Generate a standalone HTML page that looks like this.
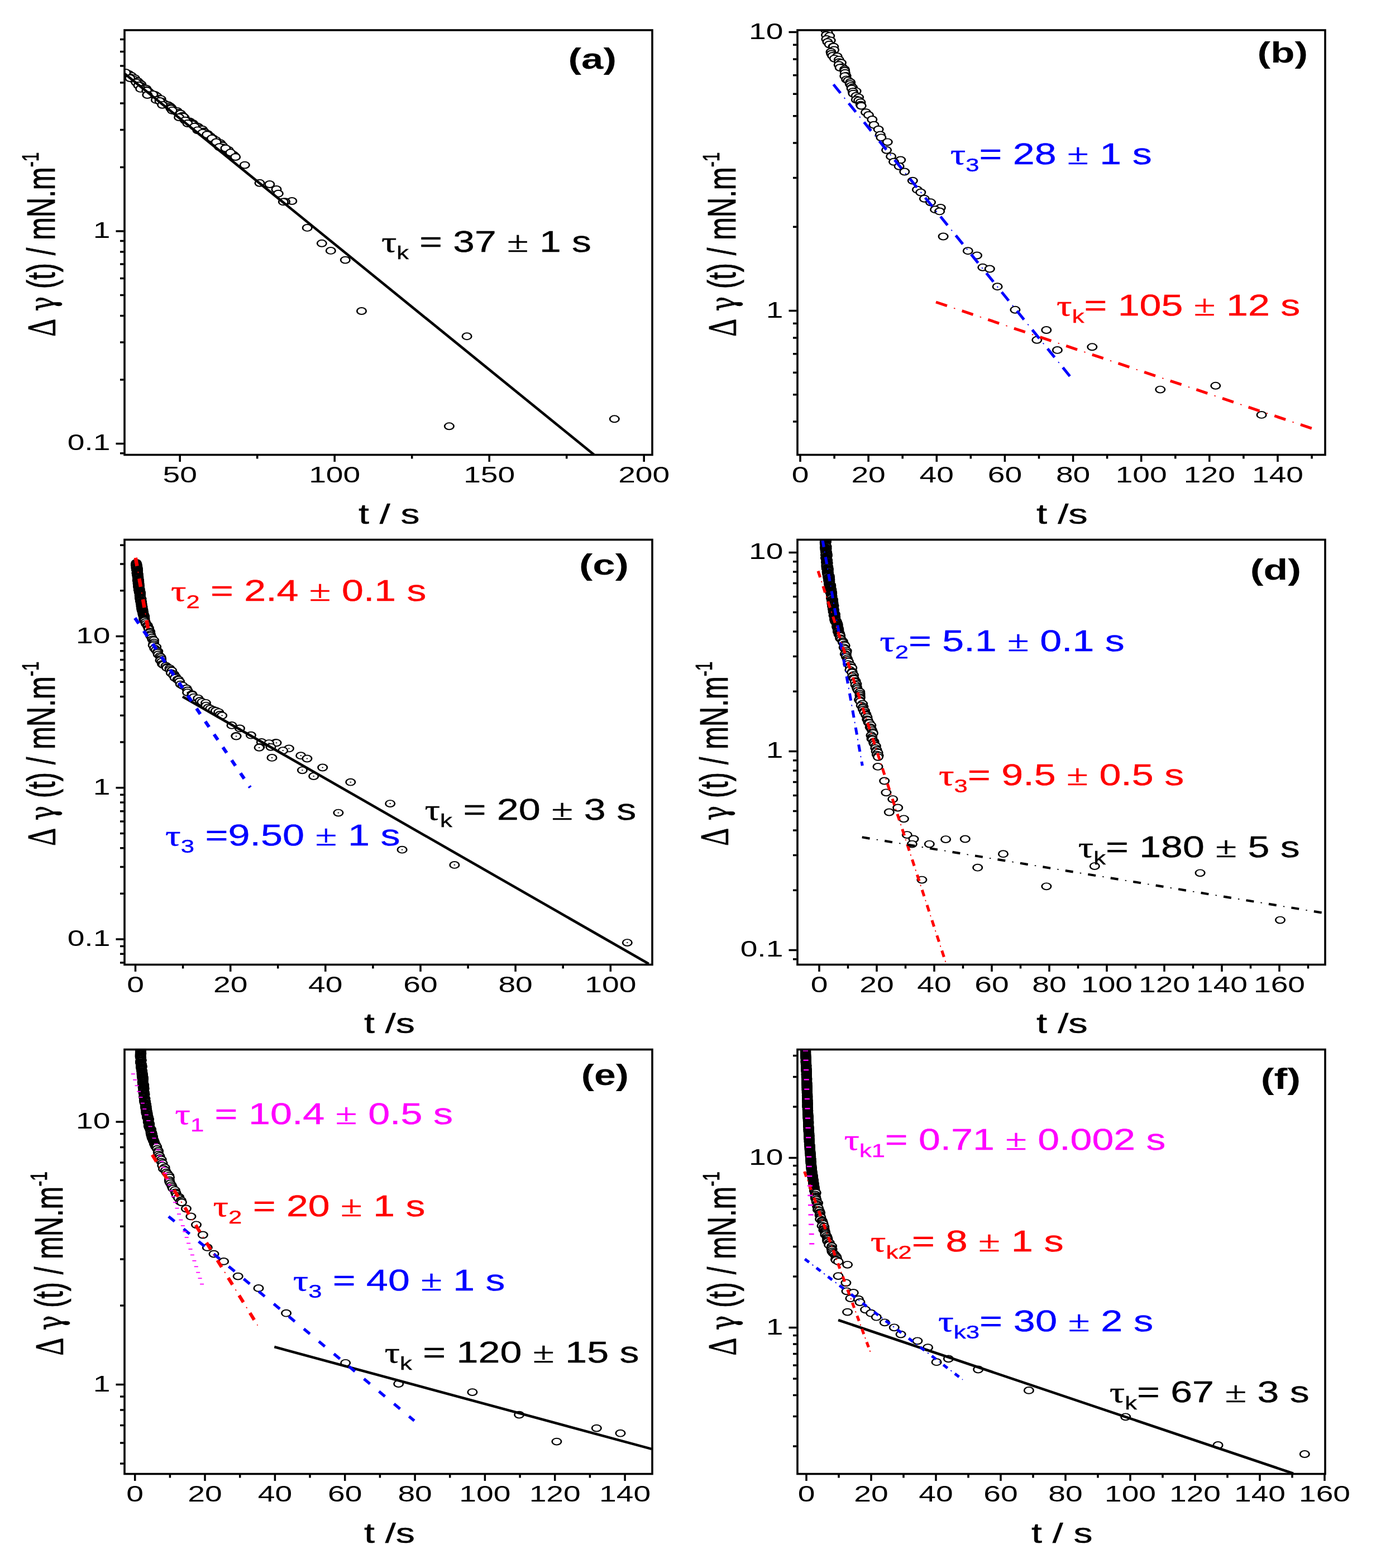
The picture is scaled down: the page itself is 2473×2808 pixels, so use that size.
<!DOCTYPE html><html><head><meta charset="utf-8"><title>Figure</title><style>html,body{margin:0;padding:0;background:#fff}svg{display:block}</style></head><body><svg xmlns="http://www.w3.org/2000/svg" width="2473" height="2808" viewBox="0 0 2473 2808">
<rect width="2473" height="2808" fill="#fff"/>
<defs><g id="m" transform="scale(1.38,1)"><circle r="5.95" fill="#fff" stroke="#000" stroke-width="1.95"/></g><g id="md" transform="scale(1.38,1)"><circle r="5.95" fill="#fff" stroke="#000" stroke-width="1.95"/><rect x="-0.9" y="-0.8" width="1.8" height="1.6" fill="#000"/></g>
<clipPath id="clipa"><rect x="223" y="54" width="945" height="760.5"/></clipPath>
<clipPath id="clipb"><rect x="1428" y="54" width="945" height="760.5"/></clipPath>
<clipPath id="clipc"><rect x="223" y="966.5" width="945" height="761.0"/></clipPath>
<clipPath id="clipd"><rect x="1428" y="966.5" width="945" height="761.0"/></clipPath>
<clipPath id="clipe"><rect x="223" y="1879.5" width="945" height="760.0"/></clipPath>
<clipPath id="clipf"><rect x="1428" y="1879.5" width="945" height="760.0"/></clipPath>
</defs>
<g clip-path="url(#clipa)"><use href="#m" x="223.7" y="131.1"/><use href="#m" x="230.5" y="132.6"/><use href="#m" x="235.2" y="135.7"/><use href="#m" x="232.5" y="138.3"/><use href="#m" x="241.4" y="140.1"/><use href="#m" x="240.3" y="142.8"/><use href="#m" x="246.8" y="145.7"/><use href="#m" x="249.9" y="148.8"/><use href="#m" x="252.9" y="151.1"/><use href="#m" x="251.7" y="153.7"/><use href="#m" x="255.7" y="156.7"/><use href="#m" x="261.7" y="158.6"/><use href="#m" x="263.2" y="161.3"/><use href="#m" x="266.2" y="164.2"/><use href="#m" x="267.1" y="165.2"/><use href="#m" x="272.7" y="168.9"/><use href="#m" x="277.4" y="169.9"/><use href="#m" x="280.9" y="172.4"/><use href="#m" x="282.3" y="176.3"/><use href="#m" x="288.1" y="177.3"/><use href="#m" x="286.4" y="181.4"/><use href="#m" x="289.4" y="182.0"/><use href="#m" x="294.5" y="186.0"/><use href="#m" x="300.8" y="188.1"/><use href="#m" x="304.2" y="190.5"/><use href="#m" x="306.3" y="192.4"/><use href="#m" x="308.3" y="195.1"/><use href="#m" x="311.8" y="198.4"/><use href="#m" x="317.2" y="198.8"/><use href="#m" x="318.7" y="201.7"/><use href="#m" x="323.3" y="203.5"/><use href="#m" x="326.7" y="207.5"/><use href="#m" x="327.6" y="209.4"/><use href="#m" x="330.1" y="210.6"/><use href="#m" x="331.3" y="215.1"/><use href="#m" x="339.6" y="217.4"/><use href="#m" x="338.2" y="218.9"/><use href="#m" x="345.4" y="220.9"/><use href="#m" x="344.4" y="222.6"/><use href="#m" x="352.2" y="226.1"/><use href="#m" x="354.8" y="227.2"/><use href="#m" x="356.3" y="229.8"/><use href="#m" x="362.4" y="231.7"/><use href="#m" x="365.1" y="235.4"/><use href="#m" x="366.1" y="236.6"/><use href="#m" x="371.8" y="239.8"/><use href="#m" x="372.6" y="241.7"/><use href="#m" x="376.6" y="244.2"/><use href="#m" x="377.0" y="246.1"/><use href="#m" x="381.4" y="248.0"/><use href="#m" x="386.6" y="251.1"/><use href="#m" x="386.1" y="254.7"/><use href="#m" x="394.6" y="256.3"/><use href="#m" x="394.8" y="259.1"/><use href="#m" x="398.4" y="260.7"/><use href="#m" x="398.3" y="264.1"/><use href="#m" x="402.7" y="265.8"/><use href="#m" x="409.0" y="268.6"/><use href="#m" x="408.7" y="272.3"/><use href="#m" x="410.9" y="273.7"/><use href="#m" x="417.9" y="277.1"/><use href="#m" x="420.3" y="279.4"/><use href="#m" x="225.0" y="130.0"/><use href="#m" x="232.8" y="140.0"/><use href="#m" x="243.9" y="147.8"/><use href="#m" x="248.0" y="153.0"/><use href="#m" x="251.7" y="158.9"/><use href="#m" x="262.8" y="162.2"/><use href="#m" x="273.9" y="168.9"/><use href="#m" x="263.9" y="170.0"/><use href="#m" x="279.4" y="178.9"/><use href="#m" x="286.0" y="181.0"/><use href="#m" x="290.6" y="187.8"/><use href="#m" x="306.0" y="194.4"/><use href="#m" x="308.3" y="197.8"/><use href="#m" x="328.3" y="208.9"/><use href="#m" x="320.6" y="210.0"/><use href="#m" x="331.7" y="215.6"/><use href="#m" x="336.0" y="221.0"/><use href="#m" x="348.3" y="226.7"/><use href="#m" x="353.9" y="233.3"/><use href="#m" x="362.8" y="237.8"/><use href="#m" x="370.6" y="241.1"/><use href="#m" x="379.4" y="247.8"/><use href="#m" x="387.2" y="254.4"/><use href="#m" x="392.8" y="263.3"/><use href="#m" x="403.9" y="265.6"/><use href="#m" x="412.8" y="273.3"/><use href="#m" x="421.7" y="281.1"/><use href="#m" x="438.3" y="295.6"/><use href="#m" x="465.0" y="327.8"/><use href="#m" x="482.8" y="330.0"/><use href="#m" x="495.0" y="338.9"/><use href="#m" x="498.3" y="346.7"/><use href="#m" x="522.8" y="360.0"/><use href="#m" x="510.6" y="361.1"/><use href="#m" x="507.4" y="361.4"/><use href="#m" x="550.2" y="407.9"/><use href="#m" x="576.3" y="435.8"/><use href="#m" x="592.3" y="448.9"/><use href="#m" x="618.3" y="465.6"/><use href="#m" x="647.5" y="557.0"/><use href="#m" x="836.1" y="602.2"/><use href="#m" x="1100.3" y="750.3"/><use href="#m" x="804.4" y="763.3"/></g>
<g clip-path="url(#clipb)"><use href="#m" x="1476.1" y="51.0"/><use href="#m" x="1479.2" y="54.4"/><use href="#m" x="1482.4" y="59.1"/><use href="#m" x="1479.5" y="62.7"/><use href="#m" x="1485.7" y="64.3"/><use href="#m" x="1479.9" y="70.0"/><use href="#m" x="1487.2" y="72.4"/><use href="#m" x="1482.0" y="75.2"/><use href="#m" x="1485.2" y="79.6"/><use href="#m" x="1492.1" y="83.4"/><use href="#m" x="1492.7" y="83.6"/><use href="#m" x="1493.6" y="89.5"/><use href="#m" x="1488.0" y="93.0"/><use href="#m" x="1488.8" y="96.5"/><use href="#m" x="1490.8" y="99.9"/><use href="#m" x="1499.2" y="101.0"/><use href="#m" x="1494.3" y="104.8"/><use href="#m" x="1502.3" y="106.8"/><use href="#m" x="1502.6" y="111.1"/><use href="#m" x="1506.4" y="112.4"/><use href="#m" x="1502.2" y="116.1"/><use href="#m" x="1508.3" y="120.5"/><use href="#m" x="1504.2" y="121.1"/><use href="#m" x="1512.4" y="124.2"/><use href="#m" x="1512.7" y="126.7"/><use href="#m" x="1513.3" y="130.6"/><use href="#m" x="1515.2" y="135.8"/><use href="#m" x="1512.8" y="136.3"/><use href="#m" x="1515.7" y="142.3"/><use href="#m" x="1518.8" y="144.2"/><use href="#m" x="1522.7" y="147.2"/><use href="#m" x="1522.3" y="150.5"/><use href="#m" x="1524.2" y="153.8"/><use href="#m" x="1526.6" y="156.6"/><use href="#m" x="1525.1" y="158.6"/><use href="#m" x="1533.1" y="163.3"/><use href="#m" x="1527.3" y="164.0"/><use href="#m" x="1527.9" y="167.6"/><use href="#m" x="1533.2" y="171.6"/><use href="#m" x="1537.6" y="174.3"/><use href="#m" x="1533.3" y="178.5"/><use href="#m" x="1537.6" y="180.0"/><use href="#m" x="1541.0" y="183.1"/><use href="#m" x="1541.3" y="187.6"/><use href="#m" x="1542.2" y="189.6"/><use href="#m" x="1550.5" y="201.1"/><use href="#m" x="1555.4" y="206.0"/><use href="#m" x="1561.8" y="214.0"/><use href="#m" x="1565.0" y="223.7"/><use href="#m" x="1573.1" y="231.7"/><use href="#m" x="1576.3" y="241.4"/><use href="#m" x="1577.9" y="246.3"/><use href="#m" x="1589.2" y="254.3"/><use href="#m" x="1587.6" y="268.8"/><use href="#m" x="1595.6" y="280.1"/><use href="#m" x="1612.7" y="286.5"/><use href="#m" x="1600.5" y="289.8"/><use href="#m" x="1610.1" y="297.8"/><use href="#m" x="1619.8" y="307.5"/><use href="#m" x="1634.3" y="323.6"/><use href="#m" x="1642.4" y="339.7"/><use href="#m" x="1648.8" y="344.5"/><use href="#m" x="1655.3" y="355.8"/><use href="#m" x="1666.5" y="362.3"/><use href="#m" x="1684.3" y="371.9"/><use href="#m" x="1674.6" y="375.2"/><use href="#m" x="1682.6" y="378.4"/><use href="#m" x="1689.1" y="423.5"/><use href="#m" x="1733.3" y="449.2"/><use href="#m" x="1749.5" y="457.5"/><use href="#m" x="1759.8" y="478.8"/><use href="#m" x="1772.3" y="481.5"/><use href="#m" x="1786.1" y="513.2"/><use href="#m" x="1817.9" y="554.8"/><use href="#m" x="1873.8" y="591.0"/><use href="#m" x="1856.8" y="608.8"/><use href="#m" x="1955.8" y="621.3"/><use href="#m" x="1893.4" y="626.9"/><use href="#m" x="2176.8" y="690.8"/><use href="#m" x="2077.8" y="697.6"/><use href="#m" x="2259.1" y="742.9"/></g>
<g clip-path="url(#clipc)"><use href="#md" x="244.1" y="1007.9"/><use href="#md" x="244.2" y="1008.7"/><use href="#md" x="243.7" y="1008.8"/><use href="#md" x="244.8" y="1010.1"/><use href="#md" x="245.1" y="1010.8"/><use href="#md" x="243.4" y="1011.4"/><use href="#md" x="243.6" y="1012.2"/><use href="#md" x="243.6" y="1012.2"/><use href="#md" x="245.2" y="1013.7"/><use href="#md" x="245.6" y="1013.8"/><use href="#md" x="245.4" y="1014.9"/><use href="#md" x="244.7" y="1015.9"/><use href="#md" x="244.9" y="1016.2"/><use href="#md" x="243.8" y="1016.7"/><use href="#md" x="246.2" y="1017.1"/><use href="#md" x="245.4" y="1018.3"/><use href="#md" x="246.1" y="1019.2"/><use href="#md" x="246.4" y="1019.4"/><use href="#md" x="244.5" y="1020.3"/><use href="#md" x="244.6" y="1020.5"/><use href="#md" x="245.5" y="1021.9"/><use href="#md" x="246.6" y="1022.1"/><use href="#md" x="246.6" y="1022.6"/><use href="#md" x="245.5" y="1023.4"/><use href="#md" x="246.5" y="1024.1"/><use href="#md" x="246.2" y="1025.2"/><use href="#md" x="245.9" y="1025.6"/><use href="#md" x="244.9" y="1026.3"/><use href="#md" x="246.5" y="1026.8"/><use href="#md" x="247.4" y="1028.0"/><use href="#md" x="246.1" y="1028.9"/><use href="#md" x="245.9" y="1029.1"/><use href="#md" x="245.5" y="1030.3"/><use href="#md" x="246.8" y="1030.6"/><use href="#md" x="246.7" y="1031.0"/><use href="#md" x="247.6" y="1032.0"/><use href="#md" x="247.3" y="1033.2"/><use href="#md" x="246.3" y="1033.8"/><use href="#md" x="247.9" y="1034.0"/><use href="#md" x="246.4" y="1034.6"/><use href="#md" x="247.0" y="1035.2"/><use href="#md" x="248.0" y="1036.7"/><use href="#md" x="247.3" y="1037.3"/><use href="#md" x="248.3" y="1038.1"/><use href="#md" x="247.1" y="1038.5"/><use href="#md" x="246.2" y="1039.0"/><use href="#md" x="248.6" y="1039.6"/><use href="#md" x="246.7" y="1040.6"/><use href="#md" x="248.1" y="1041.4"/><use href="#md" x="247.8" y="1041.5"/><use href="#md" x="248.8" y="1042.5"/><use href="#md" x="247.2" y="1042.9"/><use href="#md" x="248.1" y="1043.6"/><use href="#md" x="247.0" y="1045.0"/><use href="#md" x="249.0" y="1045.7"/><use href="#md" x="249.0" y="1045.6"/><use href="#md" x="248.5" y="1046.5"/><use href="#md" x="248.7" y="1047.8"/><use href="#md" x="249.1" y="1048.5"/><use href="#md" x="249.5" y="1049.2"/><use href="#md" x="247.5" y="1049.1"/><use href="#md" x="248.8" y="1049.8"/><use href="#md" x="247.7" y="1051.0"/><use href="#md" x="248.1" y="1051.4"/><use href="#md" x="248.5" y="1052.4"/><use href="#md" x="249.3" y="1053.5"/><use href="#md" x="248.2" y="1053.3"/><use href="#md" x="250.0" y="1054.2"/><use href="#md" x="248.7" y="1055.3"/><use href="#md" x="250.2" y="1055.6"/><use href="#md" x="248.3" y="1056.5"/><use href="#md" x="249.0" y="1057.6"/><use href="#md" x="249.4" y="1057.9"/><use href="#md" x="249.9" y="1058.9"/><use href="#md" x="251.0" y="1059.1"/><use href="#md" x="251.1" y="1060.1"/><use href="#md" x="249.2" y="1060.7"/><use href="#md" x="250.8" y="1061.1"/><use href="#md" x="251.5" y="1062.4"/><use href="#md" x="251.2" y="1062.4"/><use href="#md" x="250.1" y="1063.4"/><use href="#md" x="251.5" y="1063.9"/><use href="#md" x="251.3" y="1064.9"/><use href="#md" x="250.9" y="1065.3"/><use href="#md" x="250.2" y="1066.0"/><use href="#md" x="250.3" y="1067.2"/><use href="#md" x="251.3" y="1067.9"/><use href="#md" x="251.0" y="1068.2"/><use href="#md" x="251.5" y="1068.7"/><use href="#md" x="250.8" y="1069.2"/><use href="#md" x="250.5" y="1070.1"/><use href="#md" x="250.9" y="1071.0"/><use href="#md" x="250.7" y="1071.6"/><use href="#md" x="252.8" y="1072.2"/><use href="#md" x="253.0" y="1072.6"/><use href="#md" x="251.1" y="1073.8"/><use href="#md" x="252.0" y="1074.6"/><use href="#md" x="251.6" y="1075.2"/><use href="#md" x="251.4" y="1076.3"/><use href="#md" x="251.5" y="1076.6"/><use href="#md" x="253.6" y="1077.6"/><use href="#md" x="253.5" y="1077.7"/><use href="#md" x="253.1" y="1079.0"/><use href="#md" x="252.6" y="1079.4"/><use href="#md" x="252.3" y="1079.9"/><use href="#md" x="252.4" y="1080.7"/><use href="#md" x="254.0" y="1081.5"/><use href="#md" x="253.8" y="1081.8"/><use href="#md" x="252.8" y="1082.8"/><use href="#md" x="253.9" y="1083.8"/><use href="#md" x="254.1" y="1084.3"/><use href="#md" x="254.3" y="1085.0"/><use href="#md" x="252.9" y="1085.7"/><use href="#md" x="253.7" y="1085.8"/><use href="#md" x="254.0" y="1086.5"/><use href="#md" x="255.1" y="1087.3"/><use href="#md" x="253.7" y="1088.4"/><use href="#md" x="254.3" y="1089.0"/><use href="#md" x="254.8" y="1089.9"/><use href="#md" x="253.5" y="1090.0"/><use href="#md" x="254.5" y="1091.2"/><use href="#md" x="255.9" y="1091.7"/><use href="#md" x="254.3" y="1092.9"/><use href="#md" x="254.3" y="1092.8"/><use href="#md" x="254.7" y="1094.0"/><use href="#md" x="256.0" y="1094.3"/><use href="#md" x="255.6" y="1095.4"/><use href="#md" x="256.2" y="1095.5"/><use href="#md" x="255.8" y="1097.0"/><use href="#md" x="256.5" y="1096.8"/><use href="#md" x="256.8" y="1097.9"/><use href="#md" x="256.4" y="1098.8"/><use href="#md" x="255.8" y="1099.4"/><use href="#md" x="256.8" y="1099.9"/><use href="#md" x="257.6" y="1101.0"/><use href="#md" x="257.8" y="1101.6"/><use href="#md" x="256.5" y="1101.9"/><use href="#md" x="257.7" y="1102.2"/><use href="#md" x="258.6" y="1103.3"/><use href="#md" x="258.2" y="1104.1"/><use href="#md" x="258.8" y="1104.8"/><use href="#md" x="258.0" y="1105.1"/><use href="#md" x="258.4" y="1106.0"/><use href="#md" x="257.9" y="1106.7"/><use href="#md" x="258.7" y="1107.6"/><use href="#md" x="258.9" y="1108.3"/><use href="#md" x="257.7" y="1108.4"/><use href="#md" x="258.3" y="1109.4"/><use href="#md" x="258.8" y="1110.4"/><use href="#md" x="258.9" y="1110.8"/><use href="#md" x="258.9" y="1111.5"/><use href="#md" x="260.6" y="1114.2"/><use href="#md" x="261.6" y="1117.3"/><use href="#md" x="264.1" y="1119.6"/><use href="#md" x="264.7" y="1122.0"/><use href="#md" x="266.4" y="1124.7"/><use href="#md" x="266.5" y="1126.7"/><use href="#md" x="268.7" y="1131.0"/><use href="#md" x="267.9" y="1132.9"/><use href="#md" x="269.5" y="1135.9"/><use href="#md" x="269.5" y="1138.5"/><use href="#md" x="271.7" y="1141.7"/><use href="#md" x="272.9" y="1145.2"/><use href="#md" x="275.5" y="1146.6"/><use href="#md" x="275.5" y="1150.6"/><use href="#md" x="274.8" y="1153.3"/><use href="#md" x="274.2" y="1155.8"/><use href="#md" x="279.6" y="1158.4"/><use href="#md" x="276.7" y="1161.1"/><use href="#md" x="279.2" y="1164.1"/><use href="#md" x="282.8" y="1166.5"/><use href="#md" x="282.2" y="1168.7"/><use href="#md" x="283.3" y="1172.2"/><use href="#md" x="286.4" y="1175.1"/><use href="#md" x="288.2" y="1177.1"/><use href="#md" x="288.7" y="1180.1"/><use href="#md" x="287.0" y="1182.7"/><use href="#md" x="289.4" y="1185.1"/><use href="#md" x="290.5" y="1189.2"/><use href="#md" x="292.3" y="1190.6"/><use href="#md" x="297.0" y="1192.5"/><use href="#md" x="299.1" y="1194.8"/><use href="#md" x="298.8" y="1195.9"/><use href="#md" x="303.8" y="1196.8"/><use href="#md" x="304.3" y="1199.5"/><use href="#md" x="307.7" y="1200.9"/><use href="#md" x="306.4" y="1205.3"/><use href="#md" x="311.5" y="1207.5"/><use href="#md" x="310.6" y="1209.4"/><use href="#md" x="314.6" y="1211.9"/><use href="#md" x="313.3" y="1213.9"/><use href="#md" x="317.9" y="1217.0"/><use href="#md" x="319.7" y="1217.2"/><use href="#md" x="321.6" y="1220.5"/><use href="#md" x="323.3" y="1225.6"/><use href="#md" x="327.1" y="1227.8"/><use href="#md" x="334.0" y="1232.7"/><use href="#md" x="335.8" y="1236.4"/><use href="#md" x="335.6" y="1240.1"/><use href="#md" x="343.8" y="1243.2"/><use href="#md" x="344.4" y="1244.6"/><use href="#md" x="347.1" y="1248.6"/><use href="#md" x="354.8" y="1250.6"/><use href="#md" x="358.2" y="1255.0"/><use href="#md" x="361.9" y="1257.1"/><use href="#md" x="368.5" y="1258.8"/><use href="#md" x="369.0" y="1263.6"/><use href="#md" x="372.8" y="1267.2"/><use href="#md" x="376.6" y="1269.1"/><use href="#md" x="382.0" y="1271.4"/><use href="#md" x="386.4" y="1272.9"/><use href="#md" x="391.7" y="1275.3"/><use href="#md" x="394.2" y="1279.7"/><use href="#md" x="397.6" y="1281.4"/><use href="#md" x="415.0" y="1298.9"/><use href="#md" x="429.4" y="1304.4"/><use href="#md" x="449.4" y="1316.7"/><use href="#md" x="422.8" y="1317.8"/><use href="#md" x="423.0" y="1318.5"/><use href="#md" x="468.3" y="1328.9"/><use href="#md" x="493.9" y="1330.0"/><use href="#md" x="495.0" y="1330.3"/><use href="#md" x="481.7" y="1331.1"/><use href="#md" x="465.0" y="1337.8"/><use href="#md" x="485.0" y="1337.8"/><use href="#md" x="464.1" y="1338.8"/><use href="#md" x="517.4" y="1340.4"/><use href="#md" x="506.7" y="1344.1"/><use href="#md" x="538.7" y="1353.2"/><use href="#md" x="487.0" y="1356.9"/><use href="#md" x="549.9" y="1358.5"/><use href="#md" x="577.7" y="1374.5"/><use href="#md" x="541.4" y="1379.3"/><use href="#md" x="561.7" y="1390.0"/><use href="#md" x="627.8" y="1400.7"/><use href="#md" x="698.7" y="1439.1"/><use href="#md" x="605.9" y="1455.6"/><use href="#md" x="720.1" y="1521.7"/><use href="#md" x="813.9" y="1548.9"/><use href="#md" x="1123.3" y="1688.1"/></g>
<g clip-path="url(#clipd)"><use href="#m" x="1477.2" y="966.9"/><use href="#m" x="1477.4" y="967.9"/><use href="#m" x="1478.8" y="968.7"/><use href="#m" x="1479.5" y="968.9"/><use href="#m" x="1477.8" y="969.8"/><use href="#m" x="1477.2" y="971.0"/><use href="#m" x="1479.3" y="970.9"/><use href="#m" x="1478.6" y="971.9"/><use href="#m" x="1478.6" y="972.5"/><use href="#m" x="1477.3" y="973.3"/><use href="#m" x="1478.2" y="974.4"/><use href="#m" x="1477.6" y="974.3"/><use href="#m" x="1477.7" y="975.7"/><use href="#m" x="1479.0" y="976.6"/><use href="#m" x="1478.4" y="976.3"/><use href="#m" x="1479.3" y="977.7"/><use href="#m" x="1478.5" y="977.9"/><use href="#m" x="1480.2" y="978.8"/><use href="#m" x="1477.7" y="980.0"/><use href="#m" x="1477.5" y="980.5"/><use href="#m" x="1479.6" y="981.5"/><use href="#m" x="1478.8" y="982.2"/><use href="#m" x="1480.1" y="982.4"/><use href="#m" x="1478.2" y="982.8"/><use href="#m" x="1477.8" y="984.3"/><use href="#m" x="1479.8" y="984.3"/><use href="#m" x="1478.9" y="985.4"/><use href="#m" x="1478.4" y="986.4"/><use href="#m" x="1479.2" y="986.5"/><use href="#m" x="1480.1" y="987.7"/><use href="#m" x="1480.2" y="988.4"/><use href="#m" x="1478.4" y="988.6"/><use href="#m" x="1478.9" y="989.1"/><use href="#m" x="1479.8" y="990.3"/><use href="#m" x="1480.7" y="990.3"/><use href="#m" x="1479.2" y="991.8"/><use href="#m" x="1480.9" y="992.0"/><use href="#m" x="1481.2" y="992.7"/><use href="#m" x="1478.4" y="993.8"/><use href="#m" x="1480.7" y="994.8"/><use href="#m" x="1481.2" y="994.7"/><use href="#m" x="1481.2" y="995.3"/><use href="#m" x="1479.5" y="996.8"/><use href="#m" x="1480.9" y="996.7"/><use href="#m" x="1479.2" y="997.8"/><use href="#m" x="1479.6" y="999.0"/><use href="#m" x="1478.7" y="999.3"/><use href="#m" x="1478.7" y="999.5"/><use href="#m" x="1479.3" y="1000.3"/><use href="#m" x="1479.6" y="1000.9"/><use href="#m" x="1480.2" y="1002.5"/><use href="#m" x="1479.8" y="1002.2"/><use href="#m" x="1481.7" y="1002.9"/><use href="#m" x="1481.1" y="1003.6"/><use href="#m" x="1481.4" y="1004.6"/><use href="#m" x="1479.6" y="1005.7"/><use href="#m" x="1480.6" y="1006.7"/><use href="#m" x="1481.0" y="1006.8"/><use href="#m" x="1479.5" y="1007.2"/><use href="#m" x="1480.2" y="1008.2"/><use href="#m" x="1482.2" y="1008.4"/><use href="#m" x="1481.2" y="1009.2"/><use href="#m" x="1480.4" y="1010.3"/><use href="#m" x="1480.3" y="1010.8"/><use href="#m" x="1479.8" y="1011.9"/><use href="#m" x="1481.2" y="1012.0"/><use href="#m" x="1481.7" y="1012.6"/><use href="#m" x="1481.7" y="1014.3"/><use href="#m" x="1482.7" y="1014.2"/><use href="#m" x="1479.9" y="1014.7"/><use href="#m" x="1482.0" y="1016.2"/><use href="#m" x="1481.9" y="1016.3"/><use href="#m" x="1483.0" y="1016.8"/><use href="#m" x="1480.3" y="1018.5"/><use href="#m" x="1483.2" y="1018.8"/><use href="#m" x="1481.6" y="1019.7"/><use href="#m" x="1481.8" y="1020.6"/><use href="#m" x="1483.4" y="1020.3"/><use href="#m" x="1482.2" y="1021.2"/><use href="#m" x="1482.7" y="1022.4"/><use href="#m" x="1483.1" y="1022.6"/><use href="#m" x="1481.1" y="1023.9"/><use href="#m" x="1481.4" y="1024.8"/><use href="#m" x="1482.7" y="1024.8"/><use href="#m" x="1483.2" y="1025.3"/><use href="#m" x="1483.6" y="1026.4"/><use href="#m" x="1481.6" y="1027.4"/><use href="#m" x="1483.5" y="1027.2"/><use href="#m" x="1482.0" y="1028.7"/><use href="#m" x="1483.3" y="1029.0"/><use href="#m" x="1484.4" y="1030.2"/><use href="#m" x="1483.3" y="1030.3"/><use href="#m" x="1484.0" y="1030.6"/><use href="#m" x="1485.2" y="1031.3"/><use href="#m" x="1482.4" y="1031.9"/><use href="#m" x="1485.2" y="1032.9"/><use href="#m" x="1485.5" y="1034.3"/><use href="#m" x="1484.1" y="1035.1"/><use href="#m" x="1483.0" y="1034.8"/><use href="#m" x="1483.3" y="1035.9"/><use href="#m" x="1483.4" y="1036.1"/><use href="#m" x="1484.9" y="1037.1"/><use href="#m" x="1485.8" y="1037.6"/><use href="#m" x="1485.8" y="1039.1"/><use href="#m" x="1483.6" y="1039.8"/><use href="#m" x="1484.2" y="1040.7"/><use href="#m" x="1485.0" y="1040.4"/><use href="#m" x="1485.9" y="1041.7"/><use href="#m" x="1485.0" y="1042.3"/><use href="#m" x="1484.4" y="1042.6"/><use href="#m" x="1485.2" y="1043.8"/><use href="#m" x="1485.5" y="1044.2"/><use href="#m" x="1485.1" y="1044.5"/><use href="#m" x="1484.5" y="1045.2"/><use href="#m" x="1484.8" y="1046.8"/><use href="#m" x="1485.5" y="1047.2"/><use href="#m" x="1487.5" y="1047.3"/><use href="#m" x="1485.3" y="1048.3"/><use href="#m" x="1486.6" y="1049.2"/><use href="#m" x="1487.8" y="1049.3"/><use href="#m" x="1487.6" y="1050.6"/><use href="#m" x="1487.5" y="1051.5"/><use href="#m" x="1486.5" y="1051.9"/><use href="#m" x="1487.1" y="1052.2"/><use href="#m" x="1485.5" y="1053.4"/><use href="#m" x="1487.4" y="1054.5"/><use href="#m" x="1487.0" y="1055.0"/><use href="#m" x="1488.5" y="1055.0"/><use href="#m" x="1488.7" y="1055.7"/><use href="#m" x="1488.8" y="1056.2"/><use href="#m" x="1488.7" y="1057.0"/><use href="#m" x="1488.0" y="1058.2"/><use href="#m" x="1486.3" y="1058.5"/><use href="#m" x="1487.2" y="1058.9"/><use href="#m" x="1489.0" y="1060.0"/><use href="#m" x="1489.5" y="1060.3"/><use href="#m" x="1487.0" y="1061.0"/><use href="#m" x="1488.9" y="1061.8"/><use href="#m" x="1489.7" y="1062.4"/><use href="#m" x="1489.0" y="1063.9"/><use href="#m" x="1489.5" y="1063.8"/><use href="#m" x="1489.2" y="1065.2"/><use href="#m" x="1488.6" y="1065.2"/><use href="#m" x="1489.9" y="1066.9"/><use href="#m" x="1489.2" y="1066.8"/><use href="#m" x="1490.0" y="1067.9"/><use href="#m" x="1488.7" y="1068.5"/><use href="#m" x="1488.7" y="1068.6"/><use href="#m" x="1488.9" y="1069.6"/><use href="#m" x="1489.8" y="1070.2"/><use href="#m" x="1489.2" y="1071.5"/><use href="#m" x="1488.5" y="1071.4"/><use href="#m" x="1491.2" y="1073.1"/><use href="#m" x="1491.4" y="1073.7"/><use href="#m" x="1489.5" y="1074.1"/><use href="#m" x="1489.8" y="1075.0"/><use href="#m" x="1489.7" y="1074.8"/><use href="#m" x="1491.4" y="1076.5"/><use href="#m" x="1491.0" y="1076.6"/><use href="#m" x="1490.0" y="1077.2"/><use href="#m" x="1490.2" y="1078.5"/><use href="#m" x="1491.8" y="1078.7"/><use href="#m" x="1491.9" y="1080.0"/><use href="#m" x="1490.5" y="1080.7"/><use href="#m" x="1489.9" y="1080.6"/><use href="#m" x="1490.2" y="1082.0"/><use href="#m" x="1492.2" y="1081.9"/><use href="#m" x="1491.0" y="1082.5"/><use href="#m" x="1491.2" y="1083.7"/><use href="#m" x="1492.9" y="1084.6"/><use href="#m" x="1490.6" y="1085.7"/><use href="#m" x="1492.9" y="1085.3"/><use href="#m" x="1491.3" y="1086.2"/><use href="#m" x="1491.3" y="1087.8"/><use href="#m" x="1492.7" y="1088.1"/><use href="#m" x="1491.6" y="1088.6"/><use href="#m" x="1491.7" y="1089.4"/><use href="#m" x="1491.6" y="1090.0"/><use href="#m" x="1492.8" y="1090.4"/><use href="#m" x="1491.8" y="1091.6"/><use href="#m" x="1493.6" y="1092.3"/><use href="#m" x="1492.2" y="1092.9"/><use href="#m" x="1492.8" y="1093.7"/><use href="#m" x="1493.3" y="1094.6"/><use href="#m" x="1493.2" y="1094.9"/><use href="#m" x="1493.6" y="1095.9"/><use href="#m" x="1492.1" y="1095.7"/><use href="#m" x="1493.2" y="1096.4"/><use href="#m" x="1493.3" y="1098.1"/><use href="#m" x="1493.5" y="1098.1"/><use href="#m" x="1494.3" y="1099.3"/><use href="#m" x="1495.2" y="1100.1"/><use href="#m" x="1495.4" y="1099.7"/><use href="#m" x="1493.7" y="1100.4"/><use href="#m" x="1493.9" y="1101.6"/><use href="#m" x="1493.1" y="1102.3"/><use href="#m" x="1494.2" y="1103.3"/><use href="#m" x="1495.3" y="1103.7"/><use href="#m" x="1494.5" y="1104.4"/><use href="#m" x="1495.7" y="1104.8"/><use href="#m" x="1495.7" y="1106.2"/><use href="#m" x="1495.3" y="1106.2"/><use href="#m" x="1494.8" y="1107.0"/><use href="#m" x="1495.3" y="1108.2"/><use href="#m" x="1494.5" y="1109.1"/><use href="#m" x="1495.5" y="1109.8"/><use href="#m" x="1495.4" y="1110.1"/><use href="#m" x="1495.0" y="1111.1"/><use href="#m" x="1495.6" y="1111.5"/><use href="#m" x="1497.0" y="1111.4"/><use href="#m" x="1498.0" y="1112.2"/><use href="#m" x="1495.8" y="1113.5"/><use href="#m" x="1497.4" y="1114.3"/><use href="#m" x="1498.9" y="1114.7"/><use href="#m" x="1498.4" y="1115.8"/><use href="#m" x="1498.5" y="1115.7"/><use href="#m" x="1499.0" y="1116.8"/><use href="#m" x="1498.7" y="1117.6"/><use href="#m" x="1499.9" y="1117.5"/><use href="#m" x="1499.2" y="1118.3"/><use href="#m" x="1500.1" y="1118.8"/><use href="#m" x="1499.1" y="1120.4"/><use href="#m" x="1500.1" y="1120.3"/><use href="#m" x="1499.9" y="1121.7"/><use href="#m" x="1498.9" y="1121.5"/><use href="#m" x="1498.6" y="1122.7"/><use href="#m" x="1500.1" y="1123.5"/><use href="#m" x="1499.4" y="1124.6"/><use href="#m" x="1501.6" y="1125.2"/><use href="#m" x="1501.1" y="1125.2"/><use href="#m" x="1500.8" y="1125.7"/><use href="#m" x="1500.9" y="1127.2"/><use href="#m" x="1500.7" y="1127.6"/><use href="#m" x="1501.9" y="1128.3"/><use href="#m" x="1501.1" y="1129.2"/><use href="#m" x="1501.7" y="1129.6"/><use href="#m" x="1500.8" y="1130.4"/><use href="#m" x="1500.6" y="1130.6"/><use href="#m" x="1500.6" y="1131.4"/><use href="#m" x="1500.9" y="1131.7"/><use href="#m" x="1502.9" y="1133.3"/><use href="#m" x="1502.5" y="1133.5"/><use href="#m" x="1503.7" y="1134.8"/><use href="#m" x="1502.1" y="1134.5"/><use href="#m" x="1502.9" y="1135.5"/><use href="#m" x="1502.2" y="1136.4"/><use href="#m" x="1503.4" y="1137.3"/><use href="#m" x="1504.4" y="1137.1"/><use href="#m" x="1504.7" y="1139.0"/><use href="#m" x="1504.6" y="1143.0"/><use href="#m" x="1506.6" y="1145.1"/><use href="#m" x="1509.2" y="1148.5"/><use href="#m" x="1509.5" y="1150.7"/><use href="#m" x="1511.9" y="1154.2"/><use href="#m" x="1513.2" y="1156.1"/><use href="#m" x="1511.2" y="1159.6"/><use href="#m" x="1513.0" y="1162.1"/><use href="#m" x="1516.2" y="1165.6"/><use href="#m" x="1515.7" y="1168.5"/><use href="#m" x="1513.2" y="1171.2"/><use href="#m" x="1515.3" y="1173.3"/><use href="#m" x="1515.4" y="1176.1"/><use href="#m" x="1517.4" y="1179.1"/><use href="#m" x="1518.1" y="1181.9"/><use href="#m" x="1519.5" y="1184.7"/><use href="#m" x="1518.7" y="1189.1"/><use href="#m" x="1523.2" y="1191.5"/><use href="#m" x="1522.4" y="1194.5"/><use href="#m" x="1525.8" y="1196.0"/><use href="#m" x="1521.9" y="1199.8"/><use href="#m" x="1526.2" y="1203.0"/><use href="#m" x="1525.7" y="1204.4"/><use href="#m" x="1528.6" y="1209.0"/><use href="#m" x="1526.6" y="1211.3"/><use href="#m" x="1528.3" y="1214.5"/><use href="#m" x="1529.6" y="1215.7"/><use href="#m" x="1532.1" y="1219.7"/><use href="#m" x="1531.3" y="1221.2"/><use href="#m" x="1534.0" y="1224.8"/><use href="#m" x="1532.1" y="1226.8"/><use href="#m" x="1534.3" y="1230.5"/><use href="#m" x="1535.0" y="1233.5"/><use href="#m" x="1536.6" y="1236.6"/><use href="#m" x="1539.8" y="1239.0"/><use href="#m" x="1540.0" y="1242.4"/><use href="#m" x="1540.0" y="1245.5"/><use href="#m" x="1540.3" y="1248.6"/><use href="#m" x="1540.0" y="1250.6"/><use href="#m" x="1538.6" y="1253.5"/><use href="#m" x="1540.6" y="1255.9"/><use href="#m" x="1544.6" y="1260.4"/><use href="#m" x="1542.2" y="1263.6"/><use href="#m" x="1545.9" y="1265.6"/><use href="#m" x="1545.0" y="1267.7"/><use href="#m" x="1545.6" y="1270.8"/><use href="#m" x="1548.5" y="1272.8"/><use href="#m" x="1547.9" y="1275.7"/><use href="#m" x="1550.9" y="1279.0"/><use href="#m" x="1550.7" y="1280.7"/><use href="#m" x="1553.0" y="1284.2"/><use href="#m" x="1552.7" y="1288.1"/><use href="#m" x="1554.1" y="1289.7"/><use href="#m" x="1554.9" y="1293.8"/><use href="#m" x="1556.9" y="1295.0"/><use href="#m" x="1559.8" y="1298.8"/><use href="#m" x="1558.2" y="1302.4"/><use href="#m" x="1559.8" y="1304.5"/><use href="#m" x="1561.5" y="1307.7"/><use href="#m" x="1563.0" y="1311.1"/><use href="#m" x="1563.4" y="1313.1"/><use href="#m" x="1559.9" y="1317.0"/><use href="#m" x="1561.7" y="1319.9"/><use href="#m" x="1561.0" y="1322.9"/><use href="#m" x="1562.3" y="1324.2"/><use href="#m" x="1565.1" y="1328.0"/><use href="#m" x="1564.6" y="1329.9"/><use href="#m" x="1565.9" y="1332.7"/><use href="#m" x="1568.4" y="1335.9"/><use href="#m" x="1567.8" y="1339.8"/><use href="#m" x="1570.1" y="1343.0"/><use href="#m" x="1569.1" y="1345.8"/><use href="#m" x="1572.1" y="1347.8"/><use href="#m" x="1570.4" y="1351.6"/><use href="#m" x="1573.2" y="1353.1"/><use href="#m" x="1572.4" y="1355.8"/><use href="#m" x="1572.0" y="1372.9"/><use href="#m" x="1583.7" y="1398.5"/><use href="#m" x="1586.9" y="1419.3"/><use href="#m" x="1598.7" y="1431.1"/><use href="#m" x="1607.7" y="1446.5"/><use href="#m" x="1592.3" y="1454.5"/><use href="#m" x="1618.4" y="1466.3"/><use href="#m" x="1624.3" y="1495.1"/><use href="#m" x="1636.0" y="1502.5"/><use href="#m" x="1728.3" y="1502.5"/><use href="#m" x="1693.6" y="1503.1"/><use href="#m" x="1633.3" y="1511.6"/><use href="#m" x="1664.3" y="1511.6"/><use href="#m" x="1796.5" y="1529.2"/><use href="#m" x="1960.3" y="1551.1"/><use href="#m" x="1750.7" y="1553.7"/><use href="#m" x="2149.1" y="1563.3"/><use href="#m" x="1650.9" y="1575.6"/><use href="#m" x="1873.9" y="1587.3"/><use href="#m" x="2292.5" y="1647.6"/></g>
<g clip-path="url(#clipe)"><use href="#m" x="252.4" y="1881.0"/><use href="#m" x="251.5" y="1882.1"/><use href="#m" x="252.6" y="1883.0"/><use href="#m" x="252.4" y="1883.5"/><use href="#m" x="251.7" y="1884.4"/><use href="#m" x="251.3" y="1885.4"/><use href="#m" x="252.4" y="1885.5"/><use href="#m" x="252.7" y="1886.5"/><use href="#m" x="252.7" y="1887.1"/><use href="#m" x="251.1" y="1887.9"/><use href="#m" x="251.7" y="1888.7"/><use href="#m" x="251.0" y="1890.2"/><use href="#m" x="252.3" y="1891.0"/><use href="#m" x="251.6" y="1891.4"/><use href="#m" x="251.1" y="1892.6"/><use href="#m" x="252.1" y="1892.7"/><use href="#m" x="251.5" y="1893.9"/><use href="#m" x="252.6" y="1894.2"/><use href="#m" x="252.3" y="1895.6"/><use href="#m" x="252.6" y="1896.6"/><use href="#m" x="252.3" y="1896.8"/><use href="#m" x="252.9" y="1898.3"/><use href="#m" x="252.9" y="1898.6"/><use href="#m" x="253.2" y="1899.3"/><use href="#m" x="251.6" y="1900.5"/><use href="#m" x="252.0" y="1900.6"/><use href="#m" x="251.6" y="1902.1"/><use href="#m" x="251.8" y="1902.8"/><use href="#m" x="251.6" y="1903.4"/><use href="#m" x="252.1" y="1904.4"/><use href="#m" x="253.2" y="1904.9"/><use href="#m" x="253.2" y="1905.7"/><use href="#m" x="253.3" y="1906.7"/><use href="#m" x="252.6" y="1907.4"/><use href="#m" x="252.7" y="1908.6"/><use href="#m" x="252.5" y="1909.4"/><use href="#m" x="254.2" y="1909.4"/><use href="#m" x="254.2" y="1910.8"/><use href="#m" x="252.4" y="1911.3"/><use href="#m" x="253.1" y="1912.5"/><use href="#m" x="253.6" y="1912.9"/><use href="#m" x="253.0" y="1913.3"/><use href="#m" x="253.3" y="1914.2"/><use href="#m" x="253.2" y="1915.5"/><use href="#m" x="253.9" y="1916.0"/><use href="#m" x="254.3" y="1916.6"/><use href="#m" x="254.7" y="1918.1"/><use href="#m" x="253.8" y="1918.1"/><use href="#m" x="253.8" y="1919.2"/><use href="#m" x="254.4" y="1920.1"/><use href="#m" x="255.0" y="1920.9"/><use href="#m" x="254.5" y="1921.8"/><use href="#m" x="253.9" y="1922.9"/><use href="#m" x="254.7" y="1923.4"/><use href="#m" x="255.5" y="1923.7"/><use href="#m" x="255.5" y="1925.0"/><use href="#m" x="254.9" y="1925.5"/><use href="#m" x="254.3" y="1926.4"/><use href="#m" x="254.4" y="1926.9"/><use href="#m" x="256.2" y="1928.2"/><use href="#m" x="254.5" y="1929.1"/><use href="#m" x="255.4" y="1929.2"/><use href="#m" x="256.3" y="1930.5"/><use href="#m" x="254.9" y="1931.0"/><use href="#m" x="255.8" y="1932.0"/><use href="#m" x="256.3" y="1932.4"/><use href="#m" x="255.9" y="1933.4"/><use href="#m" x="256.2" y="1934.1"/><use href="#m" x="255.7" y="1935.2"/><use href="#m" x="255.8" y="1936.2"/><use href="#m" x="256.2" y="1936.7"/><use href="#m" x="255.1" y="1937.8"/><use href="#m" x="255.5" y="1938.9"/><use href="#m" x="255.7" y="1939.5"/><use href="#m" x="256.4" y="1939.7"/><use href="#m" x="256.6" y="1941.2"/><use href="#m" x="255.8" y="1941.4"/><use href="#m" x="257.7" y="1942.7"/><use href="#m" x="255.6" y="1942.7"/><use href="#m" x="256.9" y="1943.6"/><use href="#m" x="256.6" y="1944.7"/><use href="#m" x="256.6" y="1946.0"/><use href="#m" x="257.7" y="1946.5"/><use href="#m" x="256.1" y="1947.3"/><use href="#m" x="256.4" y="1948.1"/><use href="#m" x="258.2" y="1949.0"/><use href="#m" x="257.5" y="1949.1"/><use href="#m" x="257.2" y="1949.9"/><use href="#m" x="257.9" y="1950.8"/><use href="#m" x="257.1" y="1951.5"/><use href="#m" x="256.6" y="1952.7"/><use href="#m" x="257.4" y="1953.3"/><use href="#m" x="258.0" y="1954.7"/><use href="#m" x="256.8" y="1955.0"/><use href="#m" x="258.5" y="1956.2"/><use href="#m" x="258.0" y="1957.1"/><use href="#m" x="257.2" y="1957.8"/><use href="#m" x="257.7" y="1958.8"/><use href="#m" x="258.8" y="1959.5"/><use href="#m" x="259.0" y="1959.7"/><use href="#m" x="258.6" y="1961.1"/><use href="#m" x="258.3" y="1961.6"/><use href="#m" x="258.0" y="1962.2"/><use href="#m" x="258.4" y="1963.0"/><use href="#m" x="257.6" y="1964.1"/><use href="#m" x="258.0" y="1964.5"/><use href="#m" x="258.4" y="1965.7"/><use href="#m" x="258.0" y="1965.8"/><use href="#m" x="259.2" y="1967.4"/><use href="#m" x="260.0" y="1967.4"/><use href="#m" x="259.5" y="1968.4"/><use href="#m" x="259.2" y="1969.5"/><use href="#m" x="258.4" y="1970.5"/><use href="#m" x="260.0" y="1971.1"/><use href="#m" x="258.5" y="1972.2"/><use href="#m" x="260.5" y="1972.7"/><use href="#m" x="260.6" y="1973.0"/><use href="#m" x="259.0" y="1974.3"/><use href="#m" x="260.2" y="1975.3"/><use href="#m" x="261.1" y="1976.1"/><use href="#m" x="259.9" y="1977.0"/><use href="#m" x="261.5" y="1977.6"/><use href="#m" x="261.2" y="1978.3"/><use href="#m" x="260.6" y="1978.8"/><use href="#m" x="261.6" y="1979.4"/><use href="#m" x="261.6" y="1980.7"/><use href="#m" x="260.3" y="1981.2"/><use href="#m" x="262.3" y="1981.8"/><use href="#m" x="261.4" y="1983.1"/><use href="#m" x="260.7" y="1983.8"/><use href="#m" x="260.7" y="1984.1"/><use href="#m" x="262.1" y="1985.1"/><use href="#m" x="262.6" y="1985.7"/><use href="#m" x="261.5" y="1987.1"/><use href="#m" x="261.4" y="1987.4"/><use href="#m" x="262.6" y="1988.0"/><use href="#m" x="263.1" y="1989.4"/><use href="#m" x="262.9" y="1990.4"/><use href="#m" x="262.3" y="1991.2"/><use href="#m" x="261.8" y="1991.3"/><use href="#m" x="262.0" y="1992.6"/><use href="#m" x="264.0" y="1993.0"/><use href="#m" x="262.1" y="1994.3"/><use href="#m" x="263.7" y="1995.2"/><use href="#m" x="264.2" y="1995.4"/><use href="#m" x="263.6" y="1996.6"/><use href="#m" x="263.7" y="1996.7"/><use href="#m" x="264.0" y="1998.3"/><use href="#m" x="264.6" y="1998.9"/><use href="#m" x="263.4" y="1999.7"/><use href="#m" x="265.4" y="1999.9"/><use href="#m" x="263.6" y="2001.4"/><use href="#m" x="265.2" y="2001.4"/><use href="#m" x="264.8" y="2002.8"/><use href="#m" x="264.9" y="2003.1"/><use href="#m" x="266.2" y="2003.9"/><use href="#m" x="266.5" y="2004.5"/><use href="#m" x="266.1" y="2006.1"/><use href="#m" x="265.2" y="2006.2"/><use href="#m" x="265.5" y="2007.1"/><use href="#m" x="265.5" y="2008.4"/><use href="#m" x="265.2" y="2009.2"/><use href="#m" x="266.3" y="2009.2"/><use href="#m" x="265.9" y="2010.1"/><use href="#m" x="265.9" y="2010.8"/><use href="#m" x="267.4" y="2011.6"/><use href="#m" x="267.1" y="2013.2"/><use href="#m" x="267.7" y="2013.3"/><use href="#m" x="267.4" y="2014.7"/><use href="#m" x="266.7" y="2015.2"/><use href="#m" x="266.4" y="2016.4"/><use href="#m" x="266.6" y="2016.2"/><use href="#m" x="267.4" y="2017.3"/><use href="#m" x="267.0" y="2018.4"/><use href="#m" x="267.3" y="2019.0"/><use href="#m" x="268.4" y="2020.2"/><use href="#m" x="269.3" y="2020.7"/><use href="#m" x="269.1" y="2021.2"/><use href="#m" x="268.6" y="2022.0"/><use href="#m" x="270.5" y="2022.5"/><use href="#m" x="270.3" y="2024.0"/><use href="#m" x="270.4" y="2024.9"/><use href="#m" x="269.8" y="2024.9"/><use href="#m" x="269.9" y="2025.6"/><use href="#m" x="270.7" y="2026.4"/><use href="#m" x="270.4" y="2027.9"/><use href="#m" x="271.8" y="2028.3"/><use href="#m" x="270.0" y="2028.8"/><use href="#m" x="271.8" y="2029.9"/><use href="#m" x="271.7" y="2030.8"/><use href="#m" x="272.5" y="2031.3"/><use href="#m" x="270.6" y="2032.1"/><use href="#m" x="272.3" y="2033.4"/><use href="#m" x="272.8" y="2033.7"/><use href="#m" x="273.0" y="2034.8"/><use href="#m" x="271.8" y="2035.4"/><use href="#m" x="273.6" y="2036.0"/><use href="#m" x="273.3" y="2036.5"/><use href="#m" x="272.1" y="2037.2"/><use href="#m" x="272.8" y="2038.2"/><use href="#m" x="272.9" y="2039.0"/><use href="#m" x="274.3" y="2040.0"/><use href="#m" x="273.9" y="2041.0"/><use href="#m" x="275.1" y="2041.2"/><use href="#m" x="274.4" y="2041.6"/><use href="#m" x="274.5" y="2042.9"/><use href="#m" x="276.2" y="2043.9"/><use href="#m" x="275.6" y="2044.6"/><use href="#m" x="275.9" y="2045.3"/><use href="#m" x="276.5" y="2045.9"/><use href="#m" x="276.2" y="2046.3"/><use href="#m" x="276.8" y="2047.7"/><use href="#m" x="276.4" y="2048.4"/><use href="#m" x="278.0" y="2048.8"/><use href="#m" x="278.6" y="2049.8"/><use href="#m" x="278.2" y="2050.0"/><use href="#m" x="277.6" y="2050.8"/><use href="#m" x="279.1" y="2051.5"/><use href="#m" x="278.3" y="2052.3"/><use href="#m" x="279.0" y="2053.4"/><use href="#m" x="279.3" y="2054.2"/><use href="#m" x="280.7" y="2053.6"/><use href="#m" x="281.4" y="2057.7"/><use href="#m" x="283.6" y="2061.0"/><use href="#m" x="283.3" y="2063.8"/><use href="#m" x="283.9" y="2067.6"/><use href="#m" x="286.0" y="2070.2"/><use href="#m" x="286.6" y="2074.0"/><use href="#m" x="289.2" y="2076.7"/><use href="#m" x="289.0" y="2080.7"/><use href="#m" x="291.1" y="2083.1"/><use href="#m" x="290.8" y="2087.3"/><use href="#m" x="295.1" y="2090.7"/><use href="#m" x="292.6" y="2093.4"/><use href="#m" x="296.2" y="2095.9"/><use href="#m" x="298.0" y="2099.6"/><use href="#m" x="300.1" y="2102.2"/><use href="#m" x="302.7" y="2105.5"/><use href="#m" x="303.5" y="2108.6"/><use href="#m" x="303.3" y="2113.3"/><use href="#m" x="303.6" y="2116.0"/><use href="#m" x="305.2" y="2119.2"/><use href="#m" x="307.2" y="2122.6"/><use href="#m" x="308.4" y="2125.7"/><use href="#m" x="309.7" y="2128.7"/><use href="#m" x="313.3" y="2131.3"/><use href="#m" x="314.5" y="2135.4"/><use href="#m" x="315.4" y="2137.6"/><use href="#m" x="316.5" y="2141.1"/><use href="#m" x="320.7" y="2143.7"/><use href="#m" x="319.5" y="2145.6"/><use href="#m" x="324.3" y="2149.7"/><use href="#m" x="323.0" y="2152.2"/><use href="#m" x="325.4" y="2153.3"/><use href="#m" x="333.4" y="2164.5"/><use href="#m" x="341.9" y="2178.4"/><use href="#m" x="351.5" y="2193.3"/><use href="#m" x="363.3" y="2211.5"/><use href="#m" x="371.3" y="2233.9"/><use href="#m" x="383.0" y="2245.6"/><use href="#m" x="400.6" y="2258.9"/><use href="#m" x="426.2" y="2285.6"/><use href="#m" x="463.0" y="2306.9"/><use href="#m" x="512.6" y="2351.7"/><use href="#m" x="618.7" y="2440.8"/><use href="#m" x="713.7" y="2478.1"/><use href="#m" x="845.9" y="2493.1"/><use href="#m" x="929.7" y="2533.6"/><use href="#m" x="1068.3" y="2557.6"/><use href="#m" x="1111.0" y="2566.7"/><use href="#m" x="996.9" y="2581.6"/></g>
<g clip-path="url(#clipf)"><use href="#m" x="1442.5" y="1881.1"/><use href="#m" x="1442.8" y="1881.5"/><use href="#m" x="1442.6" y="1882.1"/><use href="#m" x="1442.4" y="1882.7"/><use href="#m" x="1442.8" y="1883.3"/><use href="#m" x="1442.9" y="1884.0"/><use href="#m" x="1442.6" y="1884.5"/><use href="#m" x="1442.4" y="1885.2"/><use href="#m" x="1442.6" y="1885.8"/><use href="#m" x="1442.8" y="1886.3"/><use href="#m" x="1442.7" y="1887.1"/><use href="#m" x="1442.7" y="1887.5"/><use href="#m" x="1442.6" y="1888.2"/><use href="#m" x="1442.5" y="1888.8"/><use href="#m" x="1443.1" y="1889.4"/><use href="#m" x="1442.8" y="1890.0"/><use href="#m" x="1442.6" y="1890.6"/><use href="#m" x="1443.0" y="1891.1"/><use href="#m" x="1442.7" y="1891.7"/><use href="#m" x="1442.8" y="1892.5"/><use href="#m" x="1443.2" y="1893.0"/><use href="#m" x="1443.3" y="1893.6"/><use href="#m" x="1442.9" y="1894.1"/><use href="#m" x="1442.9" y="1894.9"/><use href="#m" x="1443.0" y="1895.3"/><use href="#m" x="1443.3" y="1896.0"/><use href="#m" x="1443.2" y="1896.6"/><use href="#m" x="1443.4" y="1897.2"/><use href="#m" x="1443.2" y="1897.9"/><use href="#m" x="1443.4" y="1898.5"/><use href="#m" x="1443.3" y="1898.9"/><use href="#m" x="1443.2" y="1899.6"/><use href="#m" x="1443.6" y="1900.1"/><use href="#m" x="1443.1" y="1900.7"/><use href="#m" x="1443.1" y="1901.4"/><use href="#m" x="1443.1" y="1902.0"/><use href="#m" x="1443.2" y="1902.6"/><use href="#m" x="1443.2" y="1903.2"/><use href="#m" x="1443.5" y="1903.9"/><use href="#m" x="1443.7" y="1904.3"/><use href="#m" x="1443.2" y="1904.9"/><use href="#m" x="1443.6" y="1905.6"/><use href="#m" x="1443.3" y="1906.1"/><use href="#m" x="1443.7" y="1906.8"/><use href="#m" x="1443.8" y="1907.4"/><use href="#m" x="1443.9" y="1907.9"/><use href="#m" x="1443.9" y="1908.5"/><use href="#m" x="1443.7" y="1909.3"/><use href="#m" x="1443.7" y="1909.8"/><use href="#m" x="1443.9" y="1910.5"/><use href="#m" x="1443.6" y="1911.0"/><use href="#m" x="1443.8" y="1911.5"/><use href="#m" x="1443.6" y="1912.1"/><use href="#m" x="1443.9" y="1912.8"/><use href="#m" x="1443.9" y="1913.4"/><use href="#m" x="1444.1" y="1913.9"/><use href="#m" x="1444.1" y="1914.6"/><use href="#m" x="1444.1" y="1915.1"/><use href="#m" x="1444.1" y="1915.7"/><use href="#m" x="1443.7" y="1916.5"/><use href="#m" x="1444.1" y="1917.0"/><use href="#m" x="1444.3" y="1917.5"/><use href="#m" x="1443.9" y="1918.2"/><use href="#m" x="1444.0" y="1918.9"/><use href="#m" x="1444.4" y="1919.3"/><use href="#m" x="1444.3" y="1920.0"/><use href="#m" x="1444.5" y="1920.5"/><use href="#m" x="1444.3" y="1921.1"/><use href="#m" x="1444.2" y="1921.7"/><use href="#m" x="1444.4" y="1922.3"/><use href="#m" x="1444.3" y="1922.9"/><use href="#m" x="1444.5" y="1923.5"/><use href="#m" x="1444.1" y="1924.1"/><use href="#m" x="1444.1" y="1924.7"/><use href="#m" x="1444.4" y="1925.3"/><use href="#m" x="1444.4" y="1925.9"/><use href="#m" x="1444.5" y="1926.7"/><use href="#m" x="1444.2" y="1927.2"/><use href="#m" x="1444.4" y="1927.8"/><use href="#m" x="1444.6" y="1928.4"/><use href="#m" x="1444.3" y="1929.0"/><use href="#m" x="1444.3" y="1929.5"/><use href="#m" x="1444.6" y="1930.1"/><use href="#m" x="1444.7" y="1930.8"/><use href="#m" x="1444.8" y="1931.4"/><use href="#m" x="1444.4" y="1931.8"/><use href="#m" x="1444.8" y="1932.5"/><use href="#m" x="1444.8" y="1933.2"/><use href="#m" x="1444.5" y="1933.8"/><use href="#m" x="1444.8" y="1934.4"/><use href="#m" x="1444.6" y="1935.0"/><use href="#m" x="1444.6" y="1935.6"/><use href="#m" x="1444.7" y="1936.2"/><use href="#m" x="1444.5" y="1936.8"/><use href="#m" x="1444.7" y="1937.4"/><use href="#m" x="1444.9" y="1938.0"/><use href="#m" x="1444.6" y="1938.4"/><use href="#m" x="1445.0" y="1939.2"/><use href="#m" x="1444.7" y="1939.7"/><use href="#m" x="1445.0" y="1940.4"/><use href="#m" x="1445.1" y="1940.9"/><use href="#m" x="1444.9" y="1941.6"/><use href="#m" x="1444.7" y="1942.1"/><use href="#m" x="1445.1" y="1942.8"/><use href="#m" x="1444.8" y="1943.4"/><use href="#m" x="1445.1" y="1944.1"/><use href="#m" x="1445.0" y="1944.6"/><use href="#m" x="1445.2" y="1945.0"/><use href="#m" x="1445.2" y="1945.6"/><use href="#m" x="1445.3" y="1946.4"/><use href="#m" x="1444.9" y="1946.9"/><use href="#m" x="1444.8" y="1947.6"/><use href="#m" x="1445.3" y="1948.2"/><use href="#m" x="1445.2" y="1948.8"/><use href="#m" x="1445.3" y="1949.3"/><use href="#m" x="1445.1" y="1950.0"/><use href="#m" x="1445.3" y="1950.4"/><use href="#m" x="1445.0" y="1951.1"/><use href="#m" x="1445.0" y="1951.8"/><use href="#m" x="1445.3" y="1952.3"/><use href="#m" x="1445.2" y="1953.0"/><use href="#m" x="1445.4" y="1953.6"/><use href="#m" x="1445.3" y="1954.1"/><use href="#m" x="1445.2" y="1954.7"/><use href="#m" x="1445.4" y="1955.3"/><use href="#m" x="1445.2" y="1955.9"/><use href="#m" x="1445.5" y="1956.6"/><use href="#m" x="1445.2" y="1957.1"/><use href="#m" x="1445.3" y="1957.8"/><use href="#m" x="1445.6" y="1958.3"/><use href="#m" x="1445.8" y="1958.9"/><use href="#m" x="1445.5" y="1959.6"/><use href="#m" x="1445.7" y="1960.2"/><use href="#m" x="1445.8" y="1960.7"/><use href="#m" x="1445.4" y="1961.2"/><use href="#m" x="1445.3" y="1962.0"/><use href="#m" x="1445.9" y="1962.6"/><use href="#m" x="1445.9" y="1963.1"/><use href="#m" x="1445.9" y="1963.8"/><use href="#m" x="1445.6" y="1964.3"/><use href="#m" x="1445.8" y="1965.0"/><use href="#m" x="1445.7" y="1965.5"/><use href="#m" x="1445.9" y="1966.2"/><use href="#m" x="1445.8" y="1966.7"/><use href="#m" x="1445.8" y="1967.3"/><use href="#m" x="1445.6" y="1967.9"/><use href="#m" x="1445.5" y="1968.4"/><use href="#m" x="1445.9" y="1969.2"/><use href="#m" x="1446.0" y="1969.7"/><use href="#m" x="1446.0" y="1970.4"/><use href="#m" x="1445.9" y="1970.9"/><use href="#m" x="1445.9" y="1971.5"/><use href="#m" x="1445.9" y="1972.1"/><use href="#m" x="1445.9" y="1972.7"/><use href="#m" x="1446.0" y="1973.3"/><use href="#m" x="1446.0" y="1974.0"/><use href="#m" x="1446.2" y="1974.6"/><use href="#m" x="1445.7" y="1975.0"/><use href="#m" x="1446.2" y="1975.8"/><use href="#m" x="1446.1" y="1976.4"/><use href="#m" x="1446.2" y="1976.9"/><use href="#m" x="1446.2" y="1977.6"/><use href="#m" x="1445.9" y="1978.2"/><use href="#m" x="1446.0" y="1978.7"/><use href="#m" x="1445.9" y="1979.4"/><use href="#m" x="1445.9" y="1980.0"/><use href="#m" x="1446.3" y="1980.5"/><use href="#m" x="1445.9" y="1981.2"/><use href="#m" x="1446.0" y="1981.7"/><use href="#m" x="1446.0" y="1982.2"/><use href="#m" x="1446.2" y="1983.0"/><use href="#m" x="1446.0" y="1983.6"/><use href="#m" x="1446.3" y="1984.2"/><use href="#m" x="1446.4" y="1984.8"/><use href="#m" x="1446.4" y="1985.3"/><use href="#m" x="1446.5" y="1985.8"/><use href="#m" x="1446.2" y="1986.6"/><use href="#m" x="1446.4" y="1987.1"/><use href="#m" x="1446.2" y="1987.7"/><use href="#m" x="1446.6" y="1988.4"/><use href="#m" x="1446.7" y="1988.9"/><use href="#m" x="1446.7" y="1989.4"/><use href="#m" x="1446.4" y="1990.0"/><use href="#m" x="1446.4" y="1990.8"/><use href="#m" x="1446.7" y="1991.2"/><use href="#m" x="1446.6" y="1991.9"/><use href="#m" x="1446.5" y="1992.6"/><use href="#m" x="1446.6" y="1993.1"/><use href="#m" x="1446.5" y="1993.8"/><use href="#m" x="1446.9" y="1994.3"/><use href="#m" x="1446.6" y="1994.8"/><use href="#m" x="1446.8" y="1995.4"/><use href="#m" x="1446.8" y="1996.0"/><use href="#m" x="1446.9" y="1996.6"/><use href="#m" x="1446.7" y="1997.2"/><use href="#m" x="1447.1" y="1997.9"/><use href="#m" x="1447.1" y="1998.5"/><use href="#m" x="1447.2" y="1999.2"/><use href="#m" x="1447.2" y="1999.7"/><use href="#m" x="1447.3" y="2000.3"/><use href="#m" x="1446.9" y="2000.9"/><use href="#m" x="1446.8" y="2001.4"/><use href="#m" x="1447.3" y="2002.0"/><use href="#m" x="1447.4" y="2002.7"/><use href="#m" x="1447.0" y="2003.2"/><use href="#m" x="1447.2" y="2003.9"/><use href="#m" x="1447.4" y="2004.5"/><use href="#m" x="1447.4" y="2005.2"/><use href="#m" x="1447.3" y="2005.7"/><use href="#m" x="1447.5" y="2006.3"/><use href="#m" x="1447.5" y="2006.8"/><use href="#m" x="1447.2" y="2007.5"/><use href="#m" x="1447.8" y="2008.2"/><use href="#m" x="1447.7" y="2008.7"/><use href="#m" x="1447.7" y="2009.3"/><use href="#m" x="1447.8" y="2009.9"/><use href="#m" x="1447.5" y="2010.4"/><use href="#m" x="1447.8" y="2011.0"/><use href="#m" x="1447.9" y="2011.6"/><use href="#m" x="1447.6" y="2012.2"/><use href="#m" x="1447.7" y="2012.8"/><use href="#m" x="1447.6" y="2013.4"/><use href="#m" x="1447.6" y="2014.2"/><use href="#m" x="1447.6" y="2014.6"/><use href="#m" x="1447.8" y="2015.4"/><use href="#m" x="1447.7" y="2015.9"/><use href="#m" x="1447.7" y="2016.6"/><use href="#m" x="1447.7" y="2017.1"/><use href="#m" x="1448.1" y="2017.8"/><use href="#m" x="1447.7" y="2018.3"/><use href="#m" x="1448.0" y="2018.9"/><use href="#m" x="1448.3" y="2019.6"/><use href="#m" x="1448.2" y="2020.2"/><use href="#m" x="1448.4" y="2020.7"/><use href="#m" x="1448.4" y="2021.3"/><use href="#m" x="1448.0" y="2021.9"/><use href="#m" x="1447.9" y="2022.5"/><use href="#m" x="1448.3" y="2023.1"/><use href="#m" x="1448.0" y="2023.7"/><use href="#m" x="1448.2" y="2024.2"/><use href="#m" x="1448.1" y="2024.9"/><use href="#m" x="1448.5" y="2025.6"/><use href="#m" x="1448.1" y="2026.2"/><use href="#m" x="1448.1" y="2026.7"/><use href="#m" x="1448.5" y="2027.3"/><use href="#m" x="1448.7" y="2028.0"/><use href="#m" x="1448.5" y="2028.5"/><use href="#m" x="1448.3" y="2029.1"/><use href="#m" x="1448.8" y="2029.6"/><use href="#m" x="1448.8" y="2030.3"/><use href="#m" x="1448.8" y="2030.8"/><use href="#m" x="1448.6" y="2031.4"/><use href="#m" x="1448.9" y="2032.1"/><use href="#m" x="1448.7" y="2032.6"/><use href="#m" x="1448.9" y="2033.2"/><use href="#m" x="1449.0" y="2033.9"/><use href="#m" x="1449.0" y="2034.6"/><use href="#m" x="1448.7" y="2035.0"/><use href="#m" x="1448.9" y="2035.7"/><use href="#m" x="1448.7" y="2036.2"/><use href="#m" x="1448.7" y="2036.9"/><use href="#m" x="1449.1" y="2037.4"/><use href="#m" x="1448.8" y="2038.0"/><use href="#m" x="1449.0" y="2038.6"/><use href="#m" x="1448.8" y="2039.2"/><use href="#m" x="1449.2" y="2040.0"/><use href="#m" x="1449.2" y="2040.6"/><use href="#m" x="1449.3" y="2041.0"/><use href="#m" x="1449.0" y="2041.7"/><use href="#m" x="1449.2" y="2042.2"/><use href="#m" x="1449.4" y="2042.9"/><use href="#m" x="1449.5" y="2043.4"/><use href="#m" x="1449.0" y="2044.2"/><use href="#m" x="1449.3" y="2044.6"/><use href="#m" x="1449.2" y="2045.4"/><use href="#m" x="1449.5" y="2045.7"/><use href="#m" x="1449.5" y="2046.4"/><use href="#m" x="1449.5" y="2046.9"/><use href="#m" x="1449.5" y="2047.6"/><use href="#m" x="1449.4" y="2048.2"/><use href="#m" x="1449.4" y="2048.8"/><use href="#m" x="1449.4" y="2049.4"/><use href="#m" x="1450.0" y="2050.0"/><use href="#m" x="1450.1" y="2050.6"/><use href="#m" x="1449.7" y="2051.3"/><use href="#m" x="1450.1" y="2051.7"/><use href="#m" x="1449.8" y="2052.5"/><use href="#m" x="1449.8" y="2052.9"/><use href="#m" x="1450.2" y="2053.7"/><use href="#m" x="1450.3" y="2054.1"/><use href="#m" x="1450.2" y="2054.8"/><use href="#m" x="1450.1" y="2055.5"/><use href="#m" x="1450.3" y="2056.0"/><use href="#m" x="1450.0" y="2056.7"/><use href="#m" x="1450.5" y="2057.2"/><use href="#m" x="1450.3" y="2057.7"/><use href="#m" x="1450.1" y="2058.4"/><use href="#m" x="1450.6" y="2058.9"/><use href="#m" x="1450.3" y="2059.7"/><use href="#m" x="1450.4" y="2060.3"/><use href="#m" x="1450.8" y="2060.9"/><use href="#m" x="1450.4" y="2061.3"/><use href="#m" x="1450.8" y="2062.1"/><use href="#m" x="1450.7" y="2062.6"/><use href="#m" x="1451.0" y="2063.2"/><use href="#m" x="1450.7" y="2063.8"/><use href="#m" x="1451.0" y="2064.5"/><use href="#m" x="1451.0" y="2065.0"/><use href="#m" x="1451.1" y="2065.6"/><use href="#m" x="1451.0" y="2066.2"/><use href="#m" x="1451.0" y="2066.8"/><use href="#m" x="1451.2" y="2067.3"/><use href="#m" x="1451.3" y="2068.1"/><use href="#m" x="1451.4" y="2068.6"/><use href="#m" x="1450.9" y="2069.1"/><use href="#m" x="1451.3" y="2069.7"/><use href="#m" x="1451.3" y="2070.5"/><use href="#m" x="1451.6" y="2071.0"/><use href="#m" x="1451.7" y="2071.5"/><use href="#m" x="1451.5" y="2072.3"/><use href="#m" x="1451.6" y="2072.8"/><use href="#m" x="1451.4" y="2073.4"/><use href="#m" x="1451.6" y="2074.0"/><use href="#m" x="1451.9" y="2074.5"/><use href="#m" x="1451.9" y="2075.2"/><use href="#m" x="1452.0" y="2075.7"/><use href="#m" x="1452.0" y="2076.4"/><use href="#m" x="1451.6" y="2077.0"/><use href="#m" x="1451.6" y="2077.5"/><use href="#m" x="1451.9" y="2078.0"/><use href="#m" x="1452.2" y="2078.9"/><use href="#m" x="1451.9" y="2079.4"/><use href="#m" x="1451.8" y="2080.0"/><use href="#m" x="1452.2" y="2080.6"/><use href="#m" x="1452.4" y="2081.1"/><use href="#m" x="1452.4" y="2081.7"/><use href="#m" x="1452.0" y="2082.4"/><use href="#m" x="1452.1" y="2082.8"/><use href="#m" x="1452.2" y="2083.5"/><use href="#m" x="1452.3" y="2084.1"/><use href="#m" x="1452.3" y="2084.7"/><use href="#m" x="1452.5" y="2085.3"/><use href="#m" x="1452.4" y="2085.8"/><use href="#m" x="1452.8" y="2086.4"/><use href="#m" x="1452.8" y="2087.2"/><use href="#m" x="1452.7" y="2087.7"/><use href="#m" x="1452.7" y="2088.2"/><use href="#m" x="1452.9" y="2089.0"/><use href="#m" x="1453.1" y="2089.6"/><use href="#m" x="1452.9" y="2090.2"/><use href="#m" x="1453.0" y="2090.6"/><use href="#m" x="1453.2" y="2091.2"/><use href="#m" x="1452.9" y="2091.9"/><use href="#m" x="1453.3" y="2092.4"/><use href="#m" x="1453.0" y="2093.1"/><use href="#m" x="1453.2" y="2093.6"/><use href="#m" x="1453.4" y="2094.3"/><use href="#m" x="1453.1" y="2094.9"/><use href="#m" x="1453.5" y="2095.6"/><use href="#m" x="1453.5" y="2096.0"/><use href="#m" x="1453.7" y="2096.6"/><use href="#m" x="1453.9" y="2097.4"/><use href="#m" x="1454.0" y="2097.8"/><use href="#m" x="1453.8" y="2098.4"/><use href="#m" x="1453.8" y="2099.1"/><use href="#m" x="1453.8" y="2099.6"/><use href="#m" x="1453.9" y="2100.2"/><use href="#m" x="1453.9" y="2100.9"/><use href="#m" x="1454.3" y="2101.4"/><use href="#m" x="1454.5" y="2101.9"/><use href="#m" x="1454.6" y="2102.5"/><use href="#m" x="1454.3" y="2103.1"/><use href="#m" x="1454.8" y="2103.8"/><use href="#m" x="1454.9" y="2104.5"/><use href="#m" x="1455.0" y="2105.0"/><use href="#m" x="1455.1" y="2105.5"/><use href="#m" x="1454.7" y="2106.1"/><use href="#m" x="1455.3" y="2106.8"/><use href="#m" x="1454.9" y="2107.4"/><use href="#m" x="1454.9" y="2107.9"/><use href="#m" x="1455.2" y="2108.5"/><use href="#m" x="1455.6" y="2109.2"/><use href="#m" x="1455.7" y="2109.8"/><use href="#m" x="1455.6" y="2110.4"/><use href="#m" x="1455.9" y="2110.9"/><use href="#m" x="1455.4" y="2111.6"/><use href="#m" x="1456.1" y="2112.2"/><use href="#m" x="1455.7" y="2112.8"/><use href="#m" x="1456.3" y="2113.2"/><use href="#m" x="1456.4" y="2113.9"/><use href="#m" x="1456.4" y="2114.4"/><use href="#m" x="1456.5" y="2115.0"/><use href="#m" x="1456.5" y="2115.7"/><use href="#m" x="1456.4" y="2116.2"/><use href="#m" x="1456.6" y="2116.9"/><use href="#m" x="1456.8" y="2117.4"/><use href="#m" x="1456.7" y="2118.0"/><use href="#m" x="1456.9" y="2118.6"/><use href="#m" x="1457.0" y="2119.1"/><use href="#m" x="1456.9" y="2119.8"/><use href="#m" x="1457.2" y="2120.3"/><use href="#m" x="1457.2" y="2121.1"/><use href="#m" x="1457.4" y="2121.6"/><use href="#m" x="1457.1" y="2122.1"/><use href="#m" x="1457.3" y="2122.7"/><use href="#m" x="1457.2" y="2123.4"/><use href="#m" x="1457.8" y="2123.9"/><use href="#m" x="1457.8" y="2124.5"/><use href="#m" x="1457.6" y="2125.1"/><use href="#m" x="1457.9" y="2125.8"/><use href="#m" x="1458.2" y="2126.4"/><use href="#m" x="1457.8" y="2126.9"/><use href="#m" x="1458.0" y="2127.6"/><use href="#m" x="1458.2" y="2128.0"/><use href="#m" x="1458.5" y="2128.6"/><use href="#m" x="1458.6" y="2129.4"/><use href="#m" x="1458.7" y="2130.0"/><use href="#m" x="1458.7" y="2130.5"/><use href="#m" x="1458.8" y="2131.2"/><use href="#m" x="1458.5" y="2131.7"/><use href="#m" x="1458.6" y="2132.4"/><use href="#m" x="1459.0" y="2132.9"/><use href="#m" x="1459.3" y="2133.4"/><use href="#m" x="1459.2" y="2134.0"/><use href="#m" x="1459.3" y="2134.6"/><use href="#m" x="1461.3" y="2136.0"/><use href="#m" x="1459.9" y="2139.5"/><use href="#m" x="1460.0" y="2142.1"/><use href="#m" x="1460.8" y="2143.9"/><use href="#m" x="1460.4" y="2146.0"/><use href="#m" x="1461.9" y="2148.5"/><use href="#m" x="1462.2" y="2151.9"/><use href="#m" x="1464.6" y="2154.4"/><use href="#m" x="1463.1" y="2156.8"/><use href="#m" x="1463.3" y="2158.9"/><use href="#m" x="1464.1" y="2161.7"/><use href="#m" x="1465.5" y="2163.1"/><use href="#m" x="1464.5" y="2166.7"/><use href="#m" x="1467.2" y="2168.0"/><use href="#m" x="1468.6" y="2171.2"/><use href="#m" x="1468.3" y="2173.1"/><use href="#m" x="1468.1" y="2175.9"/><use href="#m" x="1469.0" y="2178.3"/><use href="#m" x="1469.9" y="2180.1"/><use href="#m" x="1468.7" y="2183.5"/><use href="#m" x="1472.1" y="2185.6"/><use href="#m" x="1472.4" y="2187.3"/><use href="#m" x="1473.5" y="2189.6"/><use href="#m" x="1474.2" y="2192.0"/><use href="#m" x="1472.0" y="2195.2"/><use href="#m" x="1475.8" y="2196.7"/><use href="#m" x="1476.0" y="2200.3"/><use href="#m" x="1474.9" y="2202.7"/><use href="#m" x="1476.9" y="2204.5"/><use href="#m" x="1477.4" y="2206.4"/><use href="#m" x="1478.0" y="2208.7"/><use href="#m" x="1477.9" y="2211.2"/><use href="#m" x="1480.4" y="2213.6"/><use href="#m" x="1481.3" y="2216.5"/><use href="#m" x="1482.0" y="2218.7"/><use href="#m" x="1481.5" y="2221.4"/><use href="#m" x="1482.2" y="2223.4"/><use href="#m" x="1485.2" y="2225.3"/><use href="#m" x="1484.7" y="2228.2"/><use href="#m" x="1484.8" y="2229.7"/><use href="#m" x="1489.6" y="2231.7"/><use href="#m" x="1488.8" y="2235.1"/><use href="#m" x="1490.1" y="2237.3"/><use href="#m" x="1489.6" y="2238.3"/><use href="#m" x="1490.0" y="2241.4"/><use href="#m" x="1491.5" y="2243.8"/><use href="#m" x="1493.7" y="2245.6"/><use href="#m" x="1496.0" y="2248.5"/><use href="#m" x="1497.7" y="2250.6"/><use href="#m" x="1498.4" y="2253.1"/><use href="#m" x="1496.4" y="2255.2"/><use href="#m" x="1497.1" y="2256.8"/><use href="#m" x="1501.3" y="2259.2"/><use href="#m" x="1517.6" y="2264.8"/><use href="#m" x="1501.1" y="2285.1"/><use href="#m" x="1514.9" y="2297.3"/><use href="#m" x="1516.0" y="2312.3"/><use href="#m" x="1528.3" y="2314.9"/><use href="#m" x="1522.9" y="2325.1"/><use href="#m" x="1537.3" y="2326.7"/><use href="#m" x="1540.0" y="2332.0"/><use href="#m" x="1549.6" y="2345.3"/><use href="#m" x="1517.6" y="2349.6"/><use href="#m" x="1559.7" y="2351.7"/><use href="#m" x="1569.3" y="2358.7"/><use href="#m" x="1584.3" y="2368.3"/><use href="#m" x="1601.3" y="2377.3"/><use href="#m" x="1613.1" y="2389.6"/><use href="#m" x="1642.9" y="2401.3"/><use href="#m" x="1661.6" y="2413.1"/><use href="#m" x="1698.4" y="2433.3"/><use href="#m" x="1677.1" y="2439.2"/><use href="#m" x="1751.7" y="2452.5"/><use href="#m" x="1842.4" y="2489.9"/><use href="#m" x="2015.7" y="2537.3"/><use href="#m" x="2181.1" y="2588.0"/><use href="#m" x="2336.3" y="2604.0"/></g>
<line x1="223" y1="131.7" x2="1064" y2="814.5" stroke="#000" stroke-width="4.6"/>
<rect x="223" y="54" width="945" height="760.5" fill="none" stroke="#000" stroke-width="3.6"/>
<path d="M322.2 816.0V827.0M599.2 816.0V827.0M876.2 816.0V827.0M1153.2 816.0V827.0M460.7 816.0V821.5M737.7 816.0V821.5M1014.7 816.0V821.5M221.5 794.4H207.5M221.5 414.0H207.5M221.5 811.8H215.0M221.5 679.9H215.0M221.5 612.9H215.0M221.5 565.4H215.0M221.5 528.5H215.0M221.5 498.4H215.0M221.5 472.9H215.0M221.5 450.9H215.0M221.5 431.4H215.0M221.5 299.5H215.0M221.5 232.5H215.0M221.5 185.0H215.0M221.5 148.1H215.0M221.5 118.0H215.0M221.5 92.5H215.0M221.5 70.5H215.0" stroke="#000" stroke-width="3.5" fill="none"/>
<g font-family="'Liberation Sans', Arial, sans-serif" font-size="40" fill="#000"><text transform="translate(322.2,863.8) scale(1.38,1)" text-anchor="middle">50</text><text transform="translate(599.2,863.8) scale(1.38,1)" text-anchor="middle">100</text><text transform="translate(876.2,863.8) scale(1.38,1)" text-anchor="middle">150</text><text transform="translate(1153.2,863.8) scale(1.38,1)" text-anchor="middle">200</text><text transform="translate(197.4,806.4) scale(1.38,1)" text-anchor="end">0.1</text><text transform="translate(197.4,426.0) scale(1.38,1)" text-anchor="end">1</text></g>
<line x1="1492.5" y1="151.2" x2="1919.9" y2="678.7" stroke="#00f" stroke-width="5.0" stroke-dasharray="20 23.50"/><line x1="1492.5" y1="151.2" x2="1919.9" y2="678.7" stroke="#00f" stroke-width="1.8" stroke-dasharray="2.5 41.00" stroke-dashoffset="-30.50"/>
<line x1="1676" y1="541" x2="2350" y2="767.5" stroke="#f00" stroke-width="5.0" stroke-dasharray="21 28.20"/><line x1="1676" y1="541" x2="2350" y2="767.5" stroke="#f00" stroke-width="1.8" stroke-dasharray="2.5 46.70" stroke-dashoffset="-33.85"/>
<rect x="1428" y="54" width="945" height="760.5" fill="none" stroke="#000" stroke-width="3.6"/>
<path d="M1433.0 816.0V827.0M1555.1 816.0V827.0M1677.3 816.0V827.0M1799.4 816.0V827.0M1921.6 816.0V827.0M2043.7 816.0V827.0M2165.8 816.0V827.0M2288.0 816.0V827.0M1494.1 816.0V821.5M1616.2 816.0V821.5M1738.3 816.0V821.5M1860.5 816.0V821.5M1982.6 816.0V821.5M2104.8 816.0V821.5M2226.9 816.0V821.5M2349.1 816.0V821.5M1426.5 556.5H1412.5M1426.5 57.5H1412.5M1426.5 755.1H1420.0M1426.5 706.7H1420.0M1426.5 667.2H1420.0M1426.5 633.8H1420.0M1426.5 604.9H1420.0M1426.5 579.3H1420.0M1426.5 406.3H1420.0M1426.5 318.4H1420.0M1426.5 256.1H1420.0M1426.5 207.7H1420.0M1426.5 168.2H1420.0M1426.5 134.8H1420.0M1426.5 105.9H1420.0M1426.5 80.3H1420.0" stroke="#000" stroke-width="3.5" fill="none"/>
<g font-family="'Liberation Sans', Arial, sans-serif" font-size="40" fill="#000"><text transform="translate(1433.0,863.8) scale(1.38,1)" text-anchor="middle">0</text><text transform="translate(1555.1,863.8) scale(1.38,1)" text-anchor="middle">20</text><text transform="translate(1677.3,863.8) scale(1.38,1)" text-anchor="middle">40</text><text transform="translate(1799.4,863.8) scale(1.38,1)" text-anchor="middle">60</text><text transform="translate(1921.6,863.8) scale(1.38,1)" text-anchor="middle">80</text><text transform="translate(2043.7,863.8) scale(1.38,1)" text-anchor="middle">100</text><text transform="translate(2165.8,863.8) scale(1.38,1)" text-anchor="middle">120</text><text transform="translate(2288.0,863.8) scale(1.38,1)" text-anchor="middle">140</text><text transform="translate(1402.4,568.5) scale(1.38,1)" text-anchor="end">1</text><text transform="translate(1402.4,69.5) scale(1.38,1)" text-anchor="end">10</text></g>
<line x1="327" y1="1247.6" x2="1161.7" y2="1726" stroke="#000" stroke-width="4.6"/>
<line x1="242.8" y1="998.9" x2="266.1" y2="1131.1" stroke="#f00" stroke-width="6.5" stroke-dasharray="15 22.80"/><line x1="242.8" y1="998.9" x2="266.1" y2="1131.1" stroke="#f00" stroke-width="1.8" stroke-dasharray="2.5 35.30" stroke-dashoffset="-25.15"/>
<line x1="241.7" y1="1106.7" x2="448.1" y2="1410.3" stroke="#00f" stroke-width="6.0" stroke-dasharray="12 16.00"/>
<rect x="223" y="966.5" width="945" height="761.0" fill="none" stroke="#000" stroke-width="3.6"/>
<path d="M242.5 1729.0V1740.0M412.7 1729.0V1740.0M582.8 1729.0V1740.0M753.0 1729.0V1740.0M923.1 1729.0V1740.0M1093.3 1729.0V1740.0M327.6 1729.0V1734.5M497.7 1729.0V1734.5M667.9 1729.0V1734.5M838.1 1729.0V1734.5M1008.2 1729.0V1734.5M221.5 1682.0H207.5M221.5 1410.8H207.5M221.5 1139.5H207.5M221.5 1724.0H215.0M221.5 1708.3H215.0M221.5 1694.4H215.0M221.5 1600.3H215.0M221.5 1552.6H215.0M221.5 1518.7H215.0M221.5 1492.4H215.0M221.5 1470.9H215.0M221.5 1452.8H215.0M221.5 1437.0H215.0M221.5 1423.2H215.0M221.5 1329.1H215.0M221.5 1281.3H215.0M221.5 1247.4H215.0M221.5 1221.2H215.0M221.5 1199.7H215.0M221.5 1181.5H215.0M221.5 1165.8H215.0M221.5 1151.9H215.0M221.5 1057.8H215.0M221.5 1010.1H215.0M221.5 976.2H215.0" stroke="#000" stroke-width="3.5" fill="none"/>
<g font-family="'Liberation Sans', Arial, sans-serif" font-size="40" fill="#000"><text transform="translate(242.5,1776.8) scale(1.38,1)" text-anchor="middle">0</text><text transform="translate(412.7,1776.8) scale(1.38,1)" text-anchor="middle">20</text><text transform="translate(582.8,1776.8) scale(1.38,1)" text-anchor="middle">40</text><text transform="translate(753.0,1776.8) scale(1.38,1)" text-anchor="middle">60</text><text transform="translate(923.1,1776.8) scale(1.38,1)" text-anchor="middle">80</text><text transform="translate(1093.3,1776.8) scale(1.38,1)" text-anchor="middle">100</text><text transform="translate(197.4,1694.0) scale(1.38,1)" text-anchor="end">0.1</text><text transform="translate(197.4,1422.8) scale(1.38,1)" text-anchor="end">1</text><text transform="translate(197.4,1151.5) scale(1.38,1)" text-anchor="end">10</text></g>
<line x1="1473" y1="967" x2="1544.3" y2="1371.3" stroke="#00f" stroke-width="5.0" stroke-dasharray="13 18.00"/><line x1="1473" y1="967" x2="1544.3" y2="1371.3" stroke="#00f" stroke-width="1.8" stroke-dasharray="2.5 28.50" stroke-dashoffset="-20.75"/>
<line x1="1465" y1="1022.6" x2="1694.7" y2="1727" stroke="#f00" stroke-width="5.0" stroke-dasharray="12 16.60"/><line x1="1465" y1="1022.6" x2="1694.7" y2="1727" stroke="#f00" stroke-width="1.8" stroke-dasharray="2.5 26.10" stroke-dashoffset="-19.05"/>
<line x1="1543.7" y1="1499.3" x2="2372" y2="1635.3" stroke="#000" stroke-width="4.2" stroke-dasharray="14 27.00"/><line x1="1543.7" y1="1499.3" x2="2372" y2="1635.3" stroke="#000" stroke-width="1.8" stroke-dasharray="2.5 38.50" stroke-dashoffset="-26.25"/>
<rect x="1428" y="966.5" width="945" height="761.0" fill="none" stroke="#000" stroke-width="3.6"/>
<path d="M1467.0 1729.0V1740.0M1570.0 1729.0V1740.0M1673.0 1729.0V1740.0M1776.0 1729.0V1740.0M1879.0 1729.0V1740.0M1982.0 1729.0V1740.0M2085.0 1729.0V1740.0M2188.0 1729.0V1740.0M2291.0 1729.0V1740.0M1518.5 1729.0V1734.5M1621.5 1729.0V1734.5M1724.5 1729.0V1734.5M1827.5 1729.0V1734.5M1930.5 1729.0V1734.5M2033.5 1729.0V1734.5M2136.5 1729.0V1734.5M2239.5 1729.0V1734.5M2342.5 1729.0V1734.5M1426.5 1701.4H1412.5M1426.5 1345.4H1412.5M1426.5 989.4H1412.5M1426.5 1717.7H1420.0M1426.5 1594.2H1420.0M1426.5 1531.5H1420.0M1426.5 1487.1H1420.0M1426.5 1452.6H1420.0M1426.5 1424.4H1420.0M1426.5 1400.5H1420.0M1426.5 1379.9H1420.0M1426.5 1361.7H1420.0M1426.5 1238.2H1420.0M1426.5 1175.5H1420.0M1426.5 1131.1H1420.0M1426.5 1096.6H1420.0M1426.5 1068.4H1420.0M1426.5 1044.5H1420.0M1426.5 1023.9H1420.0M1426.5 1005.7H1420.0" stroke="#000" stroke-width="3.5" fill="none"/>
<g font-family="'Liberation Sans', Arial, sans-serif" font-size="40" fill="#000"><text transform="translate(1467.0,1776.8) scale(1.38,1)" text-anchor="middle">0</text><text transform="translate(1570.0,1776.8) scale(1.38,1)" text-anchor="middle">20</text><text transform="translate(1673.0,1776.8) scale(1.38,1)" text-anchor="middle">40</text><text transform="translate(1776.0,1776.8) scale(1.38,1)" text-anchor="middle">60</text><text transform="translate(1879.0,1776.8) scale(1.38,1)" text-anchor="middle">80</text><text transform="translate(1982.0,1776.8) scale(1.38,1)" text-anchor="middle">100</text><text transform="translate(2085.0,1776.8) scale(1.38,1)" text-anchor="middle">120</text><text transform="translate(2188.0,1776.8) scale(1.38,1)" text-anchor="middle">140</text><text transform="translate(2291.0,1776.8) scale(1.38,1)" text-anchor="middle">160</text><text transform="translate(1402.4,1713.4) scale(1.38,1)" text-anchor="end">0.1</text><text transform="translate(1402.4,1357.4) scale(1.38,1)" text-anchor="end">1</text><text transform="translate(1402.4,1001.4) scale(1.38,1)" text-anchor="end">10</text></g>
<line x1="491.3" y1="2412" x2="1167" y2="2594.9" stroke="#000" stroke-width="4.6"/>
<line x1="301.9" y1="2178.4" x2="741.9" y2="2544.3" stroke="#00f" stroke-width="5.2" stroke-dasharray="14 21.00"/>
<line x1="272.6" y1="2068" x2="461.4" y2="2373.6" stroke="#f00" stroke-width="6.0" stroke-dasharray="14.5 22.50"/><line x1="272.6" y1="2068" x2="461.4" y2="2373.6" stroke="#f00" stroke-width="1.8" stroke-dasharray="2.5 34.50" stroke-dashoffset="-24.50"/>
<g fill="#f0f"><rect x="234.8" y="1922.4" width="7" height="1.8"/><rect x="238.2" y="1932.9" width="7" height="1.8"/><rect x="241.6" y="1943.3" width="7" height="1.8"/><rect x="245.1" y="1953.8" width="7" height="1.8"/><rect x="248.5" y="1964.2" width="7" height="1.8"/><rect x="251.9" y="1974.7" width="7" height="1.8"/><rect x="255.3" y="1985.1" width="7" height="1.8"/><rect x="258.8" y="1995.6" width="7" height="1.8"/><rect x="262.2" y="2006.0" width="7" height="1.8"/><rect x="265.6" y="2016.5" width="7" height="1.8"/><rect x="269.0" y="2026.9" width="7" height="1.8"/><rect x="272.5" y="2037.4" width="7" height="1.8"/><rect x="275.9" y="2047.8" width="7" height="1.8"/><rect x="279.3" y="2058.3" width="7" height="1.8"/><rect x="282.7" y="2068.8" width="7" height="1.8"/><rect x="286.2" y="2079.2" width="7" height="1.8"/><rect x="289.6" y="2089.7" width="7" height="1.8"/><rect x="293.0" y="2100.1" width="7" height="1.8"/><rect x="296.4" y="2110.6" width="7" height="1.8"/><rect x="299.9" y="2121.0" width="7" height="1.8"/><rect x="303.3" y="2131.5" width="7" height="1.8"/><rect x="306.7" y="2141.9" width="7" height="1.8"/><rect x="310.1" y="2152.4" width="7" height="1.8"/><rect x="313.5" y="2162.8" width="7" height="1.8"/><rect x="317.0" y="2173.3" width="7" height="1.8"/><rect x="320.4" y="2183.7" width="7" height="1.8"/><rect x="323.8" y="2194.2" width="7" height="1.8"/><rect x="327.2" y="2204.6" width="7" height="1.8"/><rect x="330.7" y="2215.1" width="7" height="1.8"/><rect x="334.1" y="2225.6" width="7" height="1.8"/><rect x="337.5" y="2236.0" width="7" height="1.8"/><rect x="340.9" y="2246.5" width="7" height="1.8"/><rect x="344.4" y="2256.9" width="7" height="1.8"/><rect x="347.8" y="2267.4" width="7" height="1.8"/><rect x="351.2" y="2277.8" width="7" height="1.8"/><rect x="354.6" y="2288.3" width="7" height="1.8"/><rect x="358.1" y="2298.7" width="7" height="1.8"/></g>
<rect x="223" y="1879.5" width="945" height="760.0" fill="none" stroke="#000" stroke-width="3.6"/>
<path d="M241.7 2641.0V2652.0M367.0 2641.0V2652.0M492.4 2641.0V2652.0M617.7 2641.0V2652.0M743.1 2641.0V2652.0M868.4 2641.0V2652.0M993.7 2641.0V2652.0M1119.1 2641.0V2652.0M304.4 2641.0V2646.5M429.7 2641.0V2646.5M555.0 2641.0V2646.5M680.4 2641.0V2646.5M805.7 2641.0V2646.5M931.1 2641.0V2646.5M1056.4 2641.0V2646.5M221.5 2479.5H207.5M221.5 2009.0H207.5M221.5 2621.1H215.0M221.5 2583.9H215.0M221.5 2552.4H215.0M221.5 2525.1H215.0M221.5 2501.0H215.0M221.5 2337.9H215.0M221.5 2255.0H215.0M221.5 2196.2H215.0M221.5 2150.6H215.0M221.5 2113.4H215.0M221.5 2081.9H215.0M221.5 2054.6H215.0M221.5 2030.5H215.0" stroke="#000" stroke-width="3.5" fill="none"/>
<g font-family="'Liberation Sans', Arial, sans-serif" font-size="40" fill="#000"><text transform="translate(241.7,2688.8) scale(1.38,1)" text-anchor="middle">0</text><text transform="translate(367.0,2688.8) scale(1.38,1)" text-anchor="middle">20</text><text transform="translate(492.4,2688.8) scale(1.38,1)" text-anchor="middle">40</text><text transform="translate(617.7,2688.8) scale(1.38,1)" text-anchor="middle">60</text><text transform="translate(743.1,2688.8) scale(1.38,1)" text-anchor="middle">80</text><text transform="translate(868.4,2688.8) scale(1.38,1)" text-anchor="middle">100</text><text transform="translate(993.7,2688.8) scale(1.38,1)" text-anchor="middle">120</text><text transform="translate(1119.1,2688.8) scale(1.38,1)" text-anchor="middle">140</text><text transform="translate(197.4,2491.5) scale(1.38,1)" text-anchor="end">1</text><text transform="translate(197.4,2021.0) scale(1.38,1)" text-anchor="end">10</text></g>
<line x1="1501.1" y1="2364" x2="2316" y2="2638.7" stroke="#000" stroke-width="4.6"/>
<line x1="1441.3" y1="2254.7" x2="1724" y2="2470.7" stroke="#00f" stroke-width="5.0" stroke-dasharray="9.5 16.50"/><line x1="1441.3" y1="2254.7" x2="1724" y2="2470.7" stroke="#00f" stroke-width="1.8" stroke-dasharray="2.5 23.50" stroke-dashoffset="-16.50"/>
<line x1="1440.5" y1="2098" x2="1558.7" y2="2421.6" stroke="#f00" stroke-width="5.0" stroke-dasharray="10 15.00"/><line x1="1440.5" y1="2098" x2="1558.7" y2="2421.6" stroke="#f00" stroke-width="1.8" stroke-dasharray="2.5 22.50" stroke-dashoffset="-16.25"/>
<g fill="#f0f"><rect x="1438.0" y="1880.2" width="9" height="2.5"/><rect x="1438.6" y="1897.5" width="9" height="2.5"/><rect x="1439.1" y="1914.8" width="9" height="2.5"/><rect x="1439.7" y="1932.1" width="9" height="2.5"/><rect x="1440.2" y="1949.4" width="9" height="2.5"/><rect x="1440.8" y="1966.7" width="9" height="2.5"/><rect x="1441.4" y="1984.0" width="9" height="2.5"/><rect x="1441.9" y="2001.3" width="9" height="2.5"/><rect x="1442.5" y="2018.6" width="9" height="2.5"/><rect x="1443.1" y="2035.9" width="9" height="2.5"/><rect x="1443.6" y="2053.2" width="9" height="2.5"/><rect x="1444.2" y="2070.4" width="9" height="2.5"/><rect x="1444.7" y="2087.7" width="9" height="2.5"/><rect x="1445.3" y="2105.0" width="9" height="2.5"/><rect x="1445.9" y="2122.3" width="9" height="2.5"/><rect x="1446.4" y="2139.6" width="9" height="2.5"/><rect x="1447.0" y="2156.9" width="9" height="2.5"/><rect x="1447.5" y="2174.2" width="9" height="2.5"/><rect x="1448.1" y="2191.5" width="9" height="2.5"/><rect x="1448.7" y="2208.8" width="9" height="2.5"/><rect x="1449.2" y="2226.1" width="9" height="2.5"/></g>
<rect x="1428" y="1879.5" width="945" height="760.0" fill="none" stroke="#000" stroke-width="3.6"/>
<path d="M1444.0 2641.0V2652.0M1560.0 2641.0V2652.0M1676.0 2641.0V2652.0M1792.0 2641.0V2652.0M1908.0 2641.0V2652.0M2024.0 2641.0V2652.0M2140.0 2641.0V2652.0M2256.0 2641.0V2652.0M2372.0 2641.0V2652.0M1502.0 2641.0V2646.5M1618.0 2641.0V2646.5M1734.0 2641.0V2646.5M1850.0 2641.0V2646.5M1966.0 2641.0V2646.5M2082.0 2641.0V2646.5M2198.0 2641.0V2646.5M2314.0 2641.0V2646.5M1426.5 2377.5H1412.5M1426.5 2073.6H1412.5M1426.5 2589.9H1420.0M1426.5 2536.4H1420.0M1426.5 2498.4H1420.0M1426.5 2469.0H1420.0M1426.5 2444.9H1420.0M1426.5 2424.6H1420.0M1426.5 2407.0H1420.0M1426.5 2391.4H1420.0M1426.5 2286.0H1420.0M1426.5 2232.5H1420.0M1426.5 2194.5H1420.0M1426.5 2165.1H1420.0M1426.5 2141.0H1420.0M1426.5 2120.7H1420.0M1426.5 2103.1H1420.0M1426.5 2087.5H1420.0M1426.5 1982.1H1420.0M1426.5 1928.6H1420.0M1426.5 1890.6H1420.0" stroke="#000" stroke-width="3.5" fill="none"/>
<g font-family="'Liberation Sans', Arial, sans-serif" font-size="40" fill="#000"><text transform="translate(1444.0,2688.8) scale(1.38,1)" text-anchor="middle">0</text><text transform="translate(1560.0,2688.8) scale(1.38,1)" text-anchor="middle">20</text><text transform="translate(1676.0,2688.8) scale(1.38,1)" text-anchor="middle">40</text><text transform="translate(1792.0,2688.8) scale(1.38,1)" text-anchor="middle">60</text><text transform="translate(1908.0,2688.8) scale(1.38,1)" text-anchor="middle">80</text><text transform="translate(2024.0,2688.8) scale(1.38,1)" text-anchor="middle">100</text><text transform="translate(2140.0,2688.8) scale(1.38,1)" text-anchor="middle">120</text><text transform="translate(2256.0,2688.8) scale(1.38,1)" text-anchor="middle">140</text><text transform="translate(2372.0,2688.8) scale(1.38,1)" text-anchor="middle">160</text><text transform="translate(1402.4,2389.5) scale(1.38,1)" text-anchor="end">1</text><text transform="translate(1402.4,2085.6) scale(1.38,1)" text-anchor="end">10</text></g>
<g transform="translate(682.89,450.70) scale(1.3130,1.0)"><text x="0" y="0" style="white-space:pre" fill="#000" stroke="#000" stroke-width="0.4" font-family="'Liberation Sans', Arial, sans-serif" font-size="53"><tspan font-family="'Liberation Serif', 'Times New Roman', serif" font-size="52">τ</tspan><tspan font-size="33" dy="13">k</tspan><tspan dy="-13"> = 37 </tspan><tspan font-family="'Liberation Serif', 'Times New Roman', serif" font-size="53.6">±</tspan><tspan> 1 s</tspan></text></g>
<g transform="translate(1701.68,294.10) scale(1.3203,1.0)"><text x="0" y="0" style="white-space:pre" fill="#00f" stroke="#00f" stroke-width="0.4" font-family="'Liberation Sans', Arial, sans-serif" font-size="53"><tspan font-family="'Liberation Serif', 'Times New Roman', serif" font-size="52">τ</tspan><tspan font-size="33" dy="13">3</tspan><tspan dy="-13">= 28 </tspan><tspan font-family="'Liberation Serif', 'Times New Roman', serif" font-size="53.6">±</tspan><tspan> 1 s</tspan></text></g>
<g transform="translate(1892.08,565.30) scale(1.3201,1.0)"><text x="0" y="0" style="white-space:pre" fill="#f00" stroke="#f00" stroke-width="0.4" font-family="'Liberation Sans', Arial, sans-serif" font-size="53"><tspan font-family="'Liberation Serif', 'Times New Roman', serif" font-size="52">τ</tspan><tspan font-size="33" dy="13">k</tspan><tspan dy="-13">= 105 </tspan><tspan font-family="'Liberation Serif', 'Times New Roman', serif" font-size="53.6">±</tspan><tspan> 12 s</tspan></text></g>
<g transform="translate(305.88,1076.30) scale(1.3186,1.0)"><text x="0" y="0" style="white-space:pre" fill="#f00" stroke="#f00" stroke-width="0.4" font-family="'Liberation Sans', Arial, sans-serif" font-size="53"><tspan font-family="'Liberation Serif', 'Times New Roman', serif" font-size="52">τ</tspan><tspan font-size="33" dy="13">2</tspan><tspan dy="-13"> = 2.4 </tspan><tspan font-family="'Liberation Serif', 'Times New Roman', serif" font-size="53.6">±</tspan><tspan> 0.1 s</tspan></text></g>
<g transform="translate(296.08,1514.20) scale(1.3238,1.0)"><text x="0" y="0" style="white-space:pre" fill="#00f" stroke="#00f" stroke-width="0.4" font-family="'Liberation Sans', Arial, sans-serif" font-size="53"><tspan font-family="'Liberation Serif', 'Times New Roman', serif" font-size="52">τ</tspan><tspan font-size="33" dy="13">3</tspan><tspan dy="-13"> =9.50 </tspan><tspan font-family="'Liberation Serif', 'Times New Roman', serif" font-size="53.6">±</tspan><tspan> 1 s</tspan></text></g>
<g transform="translate(760.38,1468.40) scale(1.3239,1.0)"><text x="0" y="0" style="white-space:pre" fill="#000" stroke="#000" stroke-width="0.4" font-family="'Liberation Sans', Arial, sans-serif" font-size="53"><tspan font-family="'Liberation Serif', 'Times New Roman', serif" font-size="52">τ</tspan><tspan font-size="33" dy="13">k</tspan><tspan dy="-13"> = 20 </tspan><tspan font-family="'Liberation Serif', 'Times New Roman', serif" font-size="53.6">±</tspan><tspan> 3 s</tspan></text></g>
<g transform="translate(1575.28,1165.50) scale(1.3194,1.0)"><text x="0" y="0" style="white-space:pre" fill="#00f" stroke="#00f" stroke-width="0.4" font-family="'Liberation Sans', Arial, sans-serif" font-size="53"><tspan font-family="'Liberation Serif', 'Times New Roman', serif" font-size="52">τ</tspan><tspan font-size="33" dy="13">2</tspan><tspan dy="-13">= 5.1 </tspan><tspan font-family="'Liberation Serif', 'Times New Roman', serif" font-size="53.6">±</tspan><tspan> 0.1 s</tspan></text></g>
<g transform="translate(1680.98,1405.70) scale(1.3218,1.0)"><text x="0" y="0" style="white-space:pre" fill="#f00" stroke="#f00" stroke-width="0.4" font-family="'Liberation Sans', Arial, sans-serif" font-size="53"><tspan font-family="'Liberation Serif', 'Times New Roman', serif" font-size="52">τ</tspan><tspan font-size="33" dy="13">3</tspan><tspan dy="-13">= 9.5 </tspan><tspan font-family="'Liberation Serif', 'Times New Roman', serif" font-size="53.6">±</tspan><tspan> 0.5 s</tspan></text></g>
<g transform="translate(1930.68,1535.00) scale(1.3188,1.0)"><text x="0" y="0" style="white-space:pre" fill="#000" stroke="#000" stroke-width="0.4" font-family="'Liberation Sans', Arial, sans-serif" font-size="53"><tspan font-family="'Liberation Serif', 'Times New Roman', serif" font-size="52">τ</tspan><tspan font-size="33" dy="13">k</tspan><tspan dy="-13">= 180 </tspan><tspan font-family="'Liberation Serif', 'Times New Roman', serif" font-size="53.6">±</tspan><tspan> 5 s</tspan></text></g>
<g transform="translate(313.28,2012.50) scale(1.3219,1.0)"><text x="0" y="0" style="white-space:pre" fill="#f0f" stroke="#f0f" stroke-width="0.4" font-family="'Liberation Sans', Arial, sans-serif" font-size="53"><tspan font-family="'Liberation Serif', 'Times New Roman', serif" font-size="52">τ</tspan><tspan font-size="33" dy="13">1</tspan><tspan dy="-13"> = 10.4 </tspan><tspan font-family="'Liberation Serif', 'Times New Roman', serif" font-size="53.6">±</tspan><tspan> 0.5 s</tspan></text></g>
<g transform="translate(381.48,2177.80) scale(1.3192,1.0)"><text x="0" y="0" style="white-space:pre" fill="#f00" stroke="#f00" stroke-width="0.4" font-family="'Liberation Sans', Arial, sans-serif" font-size="53"><tspan font-family="'Liberation Serif', 'Times New Roman', serif" font-size="52">τ</tspan><tspan font-size="33" dy="13">2</tspan><tspan dy="-13"> = 20 </tspan><tspan font-family="'Liberation Serif', 'Times New Roman', serif" font-size="53.6">±</tspan><tspan> 1 s</tspan></text></g>
<g transform="translate(524.68,2310.70) scale(1.3182,1.0)"><text x="0" y="0" style="white-space:pre" fill="#00f" stroke="#00f" stroke-width="0.4" font-family="'Liberation Sans', Arial, sans-serif" font-size="53"><tspan font-family="'Liberation Serif', 'Times New Roman', serif" font-size="52">τ</tspan><tspan font-size="33" dy="13">3</tspan><tspan dy="-13"> = 40 </tspan><tspan font-family="'Liberation Serif', 'Times New Roman', serif" font-size="53.6">±</tspan><tspan> 1 s</tspan></text></g>
<g transform="translate(688.38,2439.70) scale(1.3216,1.0)"><text x="0" y="0" style="white-space:pre" fill="#000" stroke="#000" stroke-width="0.4" font-family="'Liberation Sans', Arial, sans-serif" font-size="53"><tspan font-family="'Liberation Serif', 'Times New Roman', serif" font-size="52">τ</tspan><tspan font-size="33" dy="13">k</tspan><tspan dy="-13"> = 120 </tspan><tspan font-family="'Liberation Serif', 'Times New Roman', serif" font-size="53.6">±</tspan><tspan> 15 s</tspan></text></g>
<g transform="translate(1511.38,2059.30) scale(1.3172,1.0)"><text x="0" y="0" style="white-space:pre" fill="#f0f" stroke="#f0f" stroke-width="0.4" font-family="'Liberation Sans', Arial, sans-serif" font-size="53"><tspan font-family="'Liberation Serif', 'Times New Roman', serif" font-size="52">τ</tspan><tspan font-size="33" dy="13">k1</tspan><tspan dy="-13">= 0.71 </tspan><tspan font-family="'Liberation Serif', 'Times New Roman', serif" font-size="53.6">±</tspan><tspan> 0.002 s</tspan></text></g>
<g transform="translate(1558.67,2240.80) scale(1.3283,1.0)"><text x="0" y="0" style="white-space:pre" fill="#f00" stroke="#f00" stroke-width="0.4" font-family="'Liberation Sans', Arial, sans-serif" font-size="53"><tspan font-family="'Liberation Serif', 'Times New Roman', serif" font-size="52">τ</tspan><tspan font-size="33" dy="13">k2</tspan><tspan dy="-13">= 8 </tspan><tspan font-family="'Liberation Serif', 'Times New Roman', serif" font-size="53.6">±</tspan><tspan> 1 s</tspan></text></g>
<g transform="translate(1679.97,2384.30) scale(1.3289,1.0)"><text x="0" y="0" style="white-space:pre" fill="#00f" stroke="#00f" stroke-width="0.4" font-family="'Liberation Sans', Arial, sans-serif" font-size="53"><tspan font-family="'Liberation Serif', 'Times New Roman', serif" font-size="52">τ</tspan><tspan font-size="33" dy="13">k3</tspan><tspan dy="-13">= 30 </tspan><tspan font-family="'Liberation Serif', 'Times New Roman', serif" font-size="53.6">±</tspan><tspan> 2 s</tspan></text></g>
<g transform="translate(1986.68,2510.70) scale(1.3186,1.0)"><text x="0" y="0" style="white-space:pre" fill="#000" stroke="#000" stroke-width="0.4" font-family="'Liberation Sans', Arial, sans-serif" font-size="53"><tspan font-family="'Liberation Serif', 'Times New Roman', serif" font-size="52">τ</tspan><tspan font-size="33" dy="13">k</tspan><tspan dy="-13">= 67 </tspan><tspan font-family="'Liberation Serif', 'Times New Roman', serif" font-size="53.6">±</tspan><tspan> 3 s</tspan></text></g>
<g transform="translate(1017.56,122.78) scale(1.4143,1.0217)"><text x="0" y="0" font-family="'Liberation Sans', Arial, sans-serif" font-weight="bold" font-size="50">(a)</text></g>
<g transform="translate(2251.55,111.78) scale(1.4172,1.0217)"><text x="0" y="0" font-family="'Liberation Sans', Arial, sans-serif" font-weight="bold" font-size="50">(b)</text></g>
<g transform="translate(1037.03,1028.98) scale(1.4571,1.0217)"><text x="0" y="0" font-family="'Liberation Sans', Arial, sans-serif" font-weight="bold" font-size="50">(c)</text></g>
<g transform="translate(2238.71,1037.78) scale(1.4310,1.0217)"><text x="0" y="0" font-family="'Liberation Sans', Arial, sans-serif" font-weight="bold" font-size="50">(d)</text></g>
<g transform="translate(1040.82,1942.78) scale(1.3929,1.0217)"><text x="0" y="0" font-family="'Liberation Sans', Arial, sans-serif" font-weight="bold" font-size="50">(e)</text></g>
<g transform="translate(2257.70,1949.78) scale(1.4318,1.0217)"><text x="0" y="0" font-family="'Liberation Sans', Arial, sans-serif" font-weight="bold" font-size="50">(f)</text></g>
<g transform="translate(642.00,937.80) scale(1.3333,0.9711)"><text x="0" y="0" style="white-space:pre" stroke="#000" stroke-width="0.5" font-family="'Liberation Sans', Arial, sans-serif" font-size="51">t / s</text></g>
<g transform="translate(1855.90,937.80) scale(1.3500,0.9711)"><text x="0" y="0" style="white-space:pre" stroke="#000" stroke-width="0.5" font-family="'Liberation Sans', Arial, sans-serif" font-size="51">t /s</text></g>
<g transform="translate(651.90,1850.00) scale(1.3379,0.9737)"><text x="0" y="0" style="white-space:pre" stroke="#000" stroke-width="0.5" font-family="'Liberation Sans', Arial, sans-serif" font-size="51">t /s</text></g>
<g transform="translate(1855.90,1850.00) scale(1.3500,0.9737)"><text x="0" y="0" style="white-space:pre" stroke="#000" stroke-width="0.5" font-family="'Liberation Sans', Arial, sans-serif" font-size="51">t /s</text></g>
<g transform="translate(651.90,2763.00) scale(1.3379,0.9711)"><text x="0" y="0" style="white-space:pre" stroke="#000" stroke-width="0.5" font-family="'Liberation Sans', Arial, sans-serif" font-size="51">t /s</text></g>
<g transform="translate(1846.90,2763.00) scale(1.3346,0.9711)"><text x="0" y="0" style="white-space:pre" stroke="#000" stroke-width="0.5" font-family="'Liberation Sans', Arial, sans-serif" font-size="51">t / s</text></g>
<g transform="translate(97.60,602.82) rotate(-90) scale(0.9621,1.38)"><text x="0" y="0" style="white-space:pre" stroke="#000" stroke-width="0.6" font-family="'Liberation Sans', Arial, sans-serif" font-size="51"><tspan font-family="'Liberation Serif', 'Times New Roman', serif" font-size="51.5">Δ</tspan><tspan> </tspan><tspan font-family="'DejaVu Serif', serif" font-size="46">γ</tspan><tspan> (t) / mN.m</tspan><tspan font-size="31" dy="-20.6">-1</tspan></text></g>
<g transform="translate(1316.70,602.82) rotate(-90) scale(0.9621,1.38)"><text x="0" y="0" style="white-space:pre" stroke="#000" stroke-width="0.6" font-family="'Liberation Sans', Arial, sans-serif" font-size="51"><tspan font-family="'Liberation Serif', 'Times New Roman', serif" font-size="51.5">Δ</tspan><tspan> </tspan><tspan font-family="'DejaVu Serif', serif" font-size="46">γ</tspan><tspan> (t) / mN.m</tspan><tspan font-size="31" dy="-20.6">-1</tspan></text></g>
<g transform="translate(97.80,1514.82) rotate(-90) scale(0.9621,1.38)"><text x="0" y="0" style="white-space:pre" stroke="#000" stroke-width="0.6" font-family="'Liberation Sans', Arial, sans-serif" font-size="51"><tspan font-family="'Liberation Serif', 'Times New Roman', serif" font-size="51.5">Δ</tspan><tspan> </tspan><tspan font-family="'DejaVu Serif', serif" font-size="46">γ</tspan><tspan> (t) / mN.m</tspan><tspan font-size="31" dy="-20.6">-1</tspan></text></g>
<g transform="translate(1303.00,1514.82) rotate(-90) scale(0.9621,1.38)"><text x="0" y="0" style="white-space:pre" stroke="#000" stroke-width="0.6" font-family="'Liberation Sans', Arial, sans-serif" font-size="51"><tspan font-family="'Liberation Serif', 'Times New Roman', serif" font-size="51.5">Δ</tspan><tspan> </tspan><tspan font-family="'DejaVu Serif', serif" font-size="46">γ</tspan><tspan> (t) / mN.m</tspan><tspan font-size="31" dy="-20.6">-1</tspan></text></g>
<g transform="translate(112.20,2427.42) rotate(-90) scale(0.9597,1.38)"><text x="0" y="0" style="white-space:pre" stroke="#000" stroke-width="0.6" font-family="'Liberation Sans', Arial, sans-serif" font-size="51"><tspan font-family="'Liberation Serif', 'Times New Roman', serif" font-size="51.5">Δ</tspan><tspan> </tspan><tspan font-family="'DejaVu Serif', serif" font-size="46">γ</tspan><tspan> (t) / mN.m</tspan><tspan font-size="31" dy="-20.6">-1</tspan></text></g>
<g transform="translate(1316.90,2427.42) rotate(-90) scale(0.9597,1.38)"><text x="0" y="0" style="white-space:pre" stroke="#000" stroke-width="0.6" font-family="'Liberation Sans', Arial, sans-serif" font-size="51"><tspan font-family="'Liberation Serif', 'Times New Roman', serif" font-size="51.5">Δ</tspan><tspan> </tspan><tspan font-family="'DejaVu Serif', serif" font-size="46">γ</tspan><tspan> (t) / mN.m</tspan><tspan font-size="31" dy="-20.6">-1</tspan></text></g>
</svg></body></html>
